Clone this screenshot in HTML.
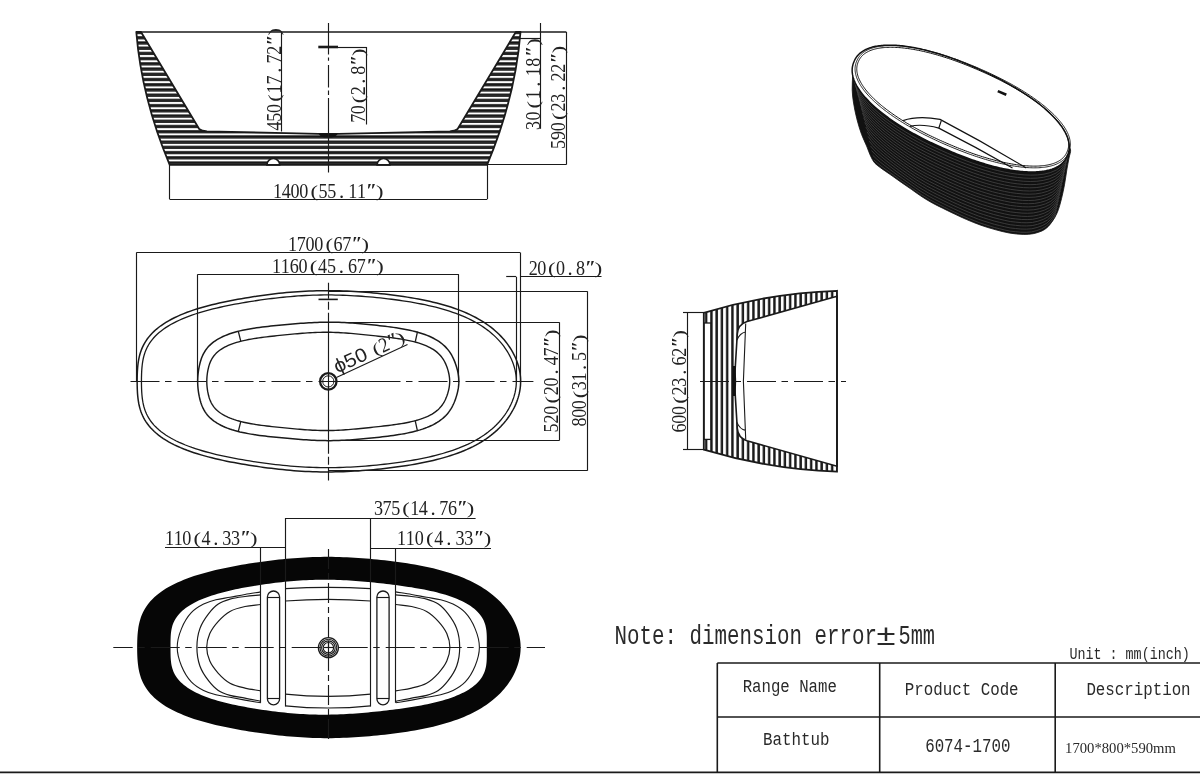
<!DOCTYPE html>
<html><head><meta charset="utf-8"><style>html,body{margin:0;padding:0;background:#fff;}svg{display:block;filter:grayscale(1);}</style></head>
<body><svg width="1200" height="774" viewBox="0 0 1200 774">
<rect width="1200" height="774" fill="#fff"/>
<defs><pattern id="hs" patternUnits="userSpaceOnUse" x="0" y="2.92" width="40" height="5.22"><rect width="40" height="5.22" fill="#2a2a2a"/><rect y="2.2" width="40" height="1.2" fill="#111"/><rect y="0" width="40" height="1.9" fill="#fff"/></pattern><pattern id="vs" patternUnits="userSpaceOnUse" x="1.25" y="0" width="5.25" height="40"><rect width="5.25" height="40" fill="#fff"/><rect x="0.2" width="2.45" height="40" fill="#1a1a1a"/></pattern></defs>
<path d="M136.3,32 Q141.6,98.25 169.7,164.8 L487.1,164.8 Q515.2,98.25 520.5,32 L515.8,32 L457.6,129 Q455.3,131 449.8,131.3 L338.5,133.9 L318.3,133.9 L207,131.3 Q201.5,131 199.2,129 L141,32 Z" fill="url(#hs)" stroke="#1a1a1a" stroke-width="1.8" stroke-linejoin="round"/>
<path d="M266.9,164.9 A6.4,6.4 0 0 1 279.7,164.9Z" fill="#fff" stroke="#1a1a1a" stroke-width="1.6"/>
<path d="M377.1,164.9 A6.4,6.4 0 0 1 389.9,164.9Z" fill="#fff" stroke="#1a1a1a" stroke-width="1.6"/>
<path d="M318.5,133.4 L338,133.4 Q336,137.6 328,137.6 Q320,137.6 318.5,133.4Z" fill="#111"/>
<g stroke="#1a1a1a" fill="none">
<line x1="136.3" y1="32" x2="566.4" y2="32" stroke-width="1.5"/>
<line x1="328.5" y1="23.1" x2="328.5" y2="172.4" stroke-width="1.15" stroke-dasharray="31.4 3.1 3.2 4.3 22.3 3.2 4.3 3.2 80"/>
<line x1="318.3" y1="47" x2="338" y2="47" stroke-width="2.6"/>
<line x1="338" y1="47.5" x2="366.7" y2="47.5" stroke-width="1.15"/>
<line x1="281.5" y1="32" x2="281.5" y2="131.5" stroke-width="1.15"/>
<line x1="366.5" y1="47" x2="366.5" y2="124.5" stroke-width="1.15"/>
<line x1="540.5" y1="23" x2="540.5" y2="128.8" stroke-width="1.15"/>
<line x1="520" y1="38.5" x2="540.6" y2="38.5" stroke-width="1.15"/>
<line x1="566.5" y1="32" x2="566.5" y2="164.6" stroke-width="1.15"/>
<line x1="487" y1="164.5" x2="566.4" y2="164.5" stroke-width="1.15"/>
<line x1="169.7" y1="199.5" x2="487" y2="199.5" stroke-width="1.15"/>
<line x1="169.5" y1="164.8" x2="169.5" y2="199.3" stroke-width="1.15"/>
<line x1="487.5" y1="164.8" x2="487.5" y2="199.3" stroke-width="1.15"/>
</g>
<g stroke="#1a1a1a" fill="none">
<path d="M137.15,381.3 L137.16,379.3 L137.18,377.3 L137.23,375.3 L137.3,373.29 L137.39,371.28 L137.51,369.27 L137.67,367.25 L137.87,365.22 L138.11,363.19 L138.41,361.15 L138.77,359.11 L139.2,357.06 L139.7,355.01 L140.29,352.96 L140.97,350.92 L141.76,348.87 L142.65,346.83 L143.65,344.81 L144.77,342.79 L146.02,340.79 L147.4,338.81 L148.91,336.85 L150.55,334.92 L152.34,333.01 L154.26,331.15 L156.32,329.31 L158.52,327.52 L160.85,325.77 L163.31,324.07 L165.9,322.42 L168.62,320.81 L171.45,319.26 L174.39,317.76 L177.43,316.32 L180.57,314.93 L183.8,313.59 L187.1,312.31 L190.48,311.09 L193.93,309.91 L197.43,308.79 L200.98,307.72 L204.57,306.7 L208.2,305.73 L211.86,304.79 L215.54,303.9 L219.23,303.05 L222.95,302.24 L226.67,301.46 L230.39,300.71 L234.12,300 L237.85,299.31 L241.58,298.65 L245.32,298.02 L249.05,297.41 L252.77,296.82 L256.5,296.26 L260.23,295.72 L263.96,295.2 L267.69,294.71 L271.42,294.24 L275.16,293.79 L278.9,293.37 L282.64,292.98 L286.4,292.61 L290.15,292.27 L293.92,291.96 L297.68,291.68 L301.46,291.44 L305.24,291.22 L309.03,291.04 L312.82,290.89 L316.61,290.78 L320.41,290.7 L324.2,290.66 L328,290.65 L331.8,290.67 L335.59,290.73 L339.39,290.82 L343.18,290.94 L346.96,291.09 L350.75,291.27 L354.53,291.48 L358.3,291.72 L362.08,291.99 L365.85,292.28 L369.61,292.59 L373.38,292.93 L377.14,293.29 L380.91,293.68 L384.67,294.1 L388.43,294.53 L392.19,295 L395.95,295.49 L399.71,296 L403.47,296.55 L407.22,297.12 L410.97,297.73 L414.7,298.38 L418.43,299.05 L422.14,299.77 L425.84,300.53 L429.51,301.32 L433.15,302.16 L436.77,303.05 L440.35,303.99 L443.88,304.97 L447.37,306 L450.8,307.08 L454.18,308.21 L457.49,309.39 L460.74,310.62 L463.91,311.91 L467,313.24 L470.02,314.62 L472.94,316.05 L475.78,317.52 L478.53,319.04 L481.18,320.59 L483.74,322.19 L486.21,323.83 L488.57,325.5 L490.85,327.2 L493.02,328.94 L495.11,330.7 L497.1,332.49 L498.99,334.3 L500.8,336.13 L502.52,337.98 L504.15,339.85 L505.7,341.74 L507.17,343.64 L508.55,345.56 L509.86,347.48 L511.09,349.42 L512.24,351.37 L513.32,353.33 L514.32,355.29 L515.25,357.26 L516.1,359.24 L516.88,361.23 L517.59,363.22 L518.23,365.21 L518.79,367.21 L519.28,369.22 L519.7,371.23 L520.04,373.24 L520.3,375.25 L520.49,377.27 L520.6,379.28 L520.64,381.3 L520.6,383.32 L520.49,385.33 L520.3,387.35 L520.04,389.36 L519.7,391.37 L519.28,393.38 L518.79,395.39 L518.23,397.39 L517.59,399.38 L516.88,401.37 L516.1,403.36 L515.25,405.34 L514.32,407.31 L513.32,409.27 L512.24,411.23 L511.09,413.18 L509.86,415.12 L508.55,417.04 L507.17,418.96 L505.7,420.86 L504.15,422.75 L502.52,424.62 L500.8,426.47 L498.99,428.3 L497.1,430.11 L495.11,431.9 L493.02,433.66 L490.85,435.4 L488.57,437.1 L486.21,438.77 L483.74,440.41 L481.18,442.01 L478.53,443.56 L475.78,445.08 L472.94,446.55 L470.02,447.98 L467,449.36 L463.91,450.69 L460.74,451.98 L457.49,453.21 L454.18,454.39 L450.8,455.52 L447.37,456.6 L443.88,457.63 L440.35,458.61 L436.77,459.55 L433.15,460.44 L429.51,461.28 L425.84,462.07 L422.14,462.83 L418.43,463.55 L414.7,464.22 L410.97,464.87 L407.22,465.48 L403.47,466.05 L399.71,466.6 L395.95,467.11 L392.19,467.6 L388.43,468.07 L384.67,468.5 L380.91,468.92 L377.14,469.31 L373.38,469.67 L369.61,470.01 L365.85,470.32 L362.08,470.61 L358.3,470.88 L354.53,471.12 L350.75,471.33 L346.96,471.51 L343.18,471.66 L339.39,471.78 L335.59,471.87 L331.8,471.93 L328,471.95 L324.2,471.94 L320.41,471.9 L316.61,471.82 L312.82,471.71 L309.03,471.56 L305.24,471.38 L301.46,471.16 L297.68,470.92 L293.92,470.64 L290.15,470.33 L286.4,469.99 L282.64,469.62 L278.9,469.23 L275.16,468.81 L271.42,468.36 L267.69,467.89 L263.96,467.4 L260.23,466.88 L256.5,466.34 L252.77,465.78 L249.05,465.19 L245.32,464.58 L241.58,463.95 L237.85,463.29 L234.12,462.6 L230.39,461.89 L226.67,461.14 L222.95,460.36 L219.23,459.55 L215.54,458.7 L211.86,457.81 L208.2,456.87 L204.57,455.9 L200.98,454.88 L197.43,453.81 L193.93,452.69 L190.48,451.51 L187.1,450.29 L183.8,449.01 L180.57,447.67 L177.43,446.28 L174.39,444.84 L171.45,443.34 L168.62,441.79 L165.9,440.18 L163.31,438.53 L160.85,436.83 L158.52,435.08 L156.32,433.29 L154.26,431.45 L152.34,429.59 L150.55,427.68 L148.91,425.75 L147.4,423.79 L146.02,421.81 L144.77,419.81 L143.65,417.79 L142.65,415.77 L141.76,413.73 L140.97,411.68 L140.29,409.64 L139.7,407.59 L139.2,405.54 L138.77,403.49 L138.41,401.45 L138.11,399.41 L137.87,397.38 L137.67,395.35 L137.51,393.33 L137.39,391.32 L137.3,389.31 L137.23,387.3 L137.18,385.3 L137.16,383.3Z" stroke-width="1.5"/>
<path d="M141.45,381.3 L141.46,379.34 L141.48,377.38 L141.53,375.42 L141.59,373.46 L141.68,371.51 L141.8,369.56 L141.95,367.62 L142.14,365.69 L142.37,363.76 L142.65,361.83 L142.99,359.92 L143.39,358.02 L143.86,356.12 L144.4,354.24 L145.02,352.37 L145.74,350.5 L146.54,348.65 L147.46,346.81 L148.48,344.97 L149.61,343.16 L150.86,341.35 L152.25,339.56 L153.76,337.78 L155.4,336.03 L157.19,334.3 L159.11,332.59 L161.17,330.91 L163.36,329.26 L165.69,327.65 L168.15,326.08 L170.74,324.55 L173.46,323.06 L176.28,321.62 L179.22,320.22 L182.26,318.88 L185.39,317.58 L188.61,316.34 L191.91,315.14 L195.28,314 L198.71,312.9 L202.19,311.85 L205.72,310.85 L209.29,309.89 L212.89,308.97 L216.53,308.09 L220.18,307.25 L223.85,306.44 L227.53,305.67 L231.22,304.93 L234.92,304.22 L238.62,303.54 L242.32,302.89 L246.02,302.26 L249.73,301.65 L253.43,301.07 L257.13,300.51 L260.83,299.97 L264.54,299.46 L268.24,298.97 L271.95,298.5 L275.65,298.06 L279.36,297.64 L283.08,297.25 L286.8,296.89 L290.52,296.55 L294.25,296.25 L297.98,295.97 L301.72,295.73 L305.47,295.52 L309.21,295.34 L312.96,295.19 L316.72,295.08 L320.48,295 L324.23,294.96 L327.99,294.95 L331.75,294.97 L335.51,295.03 L339.27,295.12 L343.02,295.24 L346.77,295.39 L350.52,295.57 L354.27,295.78 L358.02,296.01 L361.76,296.27 L365.5,296.56 L369.24,296.87 L372.98,297.21 L376.72,297.57 L380.45,297.96 L384.19,298.37 L387.92,298.8 L391.65,299.26 L395.38,299.75 L399.11,300.26 L402.83,300.8 L406.55,301.37 L410.26,301.97 L413.95,302.61 L417.64,303.28 L421.3,303.99 L424.95,304.73 L428.57,305.52 L432.16,306.35 L435.71,307.22 L439.23,308.14 L442.7,309.1 L446.11,310.11 L449.47,311.17 L452.77,312.27 L456.01,313.43 L459.17,314.63 L462.25,315.88 L465.26,317.17 L468.18,318.51 L471.01,319.89 L473.75,321.31 L476.4,322.77 L478.96,324.27 L481.41,325.81 L483.78,327.38 L486.05,328.98 L488.22,330.61 L490.3,332.26 L492.28,333.94 L494.17,335.64 L495.98,337.36 L497.69,339.1 L499.32,340.86 L500.87,342.63 L502.34,344.42 L503.72,346.22 L505.03,348.02 L506.26,349.84 L507.42,351.67 L508.5,353.5 L509.52,355.34 L510.46,357.18 L511.33,359.03 L512.13,360.88 L512.86,362.74 L513.52,364.59 L514.11,366.45 L514.63,368.3 L515.09,370.16 L515.47,372.02 L515.78,373.88 L516.03,375.73 L516.2,377.59 L516.31,379.44 L516.34,381.3 L516.31,383.16 L516.2,385.01 L516.03,386.87 L515.78,388.72 L515.47,390.58 L515.09,392.44 L514.63,394.3 L514.11,396.15 L513.52,398.01 L512.86,399.86 L512.13,401.72 L511.33,403.57 L510.46,405.42 L509.52,407.26 L508.5,409.1 L507.42,410.93 L506.26,412.76 L505.03,414.58 L503.72,416.38 L502.34,418.18 L500.87,419.97 L499.32,421.74 L497.69,423.5 L495.98,425.24 L494.17,426.96 L492.28,428.66 L490.3,430.34 L488.22,431.99 L486.05,433.62 L483.78,435.22 L481.41,436.79 L478.96,438.33 L476.4,439.83 L473.75,441.29 L471.01,442.71 L468.18,444.09 L465.26,445.43 L462.25,446.72 L459.17,447.97 L456.01,449.17 L452.77,450.33 L449.47,451.43 L446.11,452.49 L442.7,453.5 L439.23,454.46 L435.71,455.38 L432.16,456.25 L428.57,457.08 L424.95,457.87 L421.3,458.61 L417.64,459.32 L413.95,459.99 L410.26,460.63 L406.55,461.23 L402.83,461.8 L399.11,462.34 L395.38,462.85 L391.65,463.34 L387.92,463.8 L384.19,464.23 L380.45,464.64 L376.72,465.03 L372.98,465.39 L369.24,465.73 L365.5,466.04 L361.76,466.33 L358.02,466.59 L354.27,466.82 L350.52,467.03 L346.77,467.21 L343.02,467.36 L339.27,467.48 L335.51,467.57 L331.75,467.63 L327.99,467.65 L324.23,467.64 L320.48,467.6 L316.72,467.52 L312.96,467.41 L309.21,467.26 L305.47,467.08 L301.72,466.87 L297.98,466.63 L294.25,466.35 L290.52,466.05 L286.8,465.71 L283.08,465.35 L279.36,464.96 L275.65,464.54 L271.95,464.1 L268.24,463.63 L264.54,463.14 L260.83,462.63 L257.13,462.09 L253.43,461.53 L249.73,460.95 L246.02,460.34 L242.32,459.71 L238.62,459.06 L234.92,458.38 L231.22,457.67 L227.53,456.93 L223.85,456.16 L220.18,455.35 L216.53,454.51 L212.89,453.63 L209.29,452.71 L205.72,451.75 L202.19,450.75 L198.71,449.7 L195.28,448.6 L191.91,447.46 L188.61,446.26 L185.39,445.02 L182.26,443.72 L179.22,442.38 L176.28,440.98 L173.46,439.54 L170.74,438.05 L168.15,436.52 L165.69,434.95 L163.36,433.34 L161.17,431.69 L159.11,430.01 L157.19,428.3 L155.4,426.57 L153.76,424.82 L152.25,423.04 L150.86,421.25 L149.61,419.44 L148.48,417.63 L147.46,415.79 L146.54,413.95 L145.74,412.1 L145.02,410.23 L144.4,408.36 L143.86,406.48 L143.39,404.58 L142.99,402.68 L142.65,400.77 L142.37,398.84 L142.14,396.91 L141.95,394.98 L141.8,393.04 L141.68,391.09 L141.59,389.14 L141.53,387.18 L141.48,385.22 L141.46,383.26Z" stroke-width="1.3"/>
<path d="M197.66,381.4 L197.68,380.16 L197.71,378.92 L197.77,377.68 L197.85,376.43 L197.95,375.19 L198.07,373.94 L198.21,372.69 L198.38,371.43 L198.56,370.18 L198.77,368.91 L199,367.65 L199.25,366.37 L199.53,365.1 L199.83,363.81 L200.16,362.52 L200.53,361.22 L200.93,359.92 L201.38,358.61 L201.87,357.3 L202.42,355.98 L203.02,354.67 L203.69,353.35 L204.44,352.04 L205.26,350.73 L206.16,349.43 L207.16,348.13 L208.25,346.86 L209.44,345.6 L210.74,344.36 L212.15,343.14 L213.66,341.95 L215.29,340.8 L217.04,339.67 L218.89,338.59 L220.86,337.55 L222.93,336.55 L225.1,335.6 L227.37,334.69 L229.73,333.83 L232.17,333.03 L234.69,332.27 L237.28,331.56 L239.93,330.89 L242.63,330.28 L245.37,329.7 L248.14,329.17 L250.94,328.68 L253.76,328.23 L256.59,327.8 L259.43,327.41 L262.26,327.05 L265.09,326.7 L267.91,326.38 L270.73,326.07 L273.52,325.78 L276.31,325.5 L279.08,325.23 L281.83,324.97 L284.57,324.72 L287.3,324.47 L290.02,324.23 L292.74,323.99 L295.44,323.77 L298.15,323.55 L300.85,323.34 L303.55,323.14 L306.25,322.95 L308.96,322.78 L311.67,322.63 L314.38,322.5 L317.1,322.38 L319.82,322.29 L322.54,322.22 L325.27,322.18 L328,322.16 L330.73,322.17 L333.46,322.2 L336.19,322.25 L338.91,322.34 L341.63,322.44 L344.35,322.57 L347.06,322.72 L349.77,322.89 L352.48,323.07 L355.18,323.27 L357.88,323.49 L360.58,323.72 L363.28,323.96 L365.98,324.22 L368.69,324.48 L371.4,324.75 L374.12,325.03 L376.84,325.33 L379.58,325.63 L382.32,325.95 L385.07,326.28 L387.82,326.62 L390.59,326.98 L393.35,327.37 L396.11,327.77 L398.87,328.21 L401.62,328.67 L404.36,329.16 L407.07,329.69 L409.75,330.25 L412.4,330.86 L415,331.5 L417.56,332.19 L420.06,332.92 L422.49,333.7 L424.85,334.52 L427.12,335.39 L429.32,336.3 L431.42,337.25 L433.43,338.25 L435.34,339.28 L437.16,340.35 L438.87,341.46 L440.47,342.59 L441.98,343.76 L443.39,344.95 L444.7,346.16 L445.92,347.38 L447.05,348.63 L448.09,349.88 L449.06,351.15 L449.95,352.42 L450.77,353.7 L451.54,354.98 L452.24,356.26 L452.9,357.54 L453.5,358.81 L454.07,360.09 L454.6,361.36 L455.09,362.63 L455.55,363.9 L455.98,365.16 L456.38,366.42 L456.75,367.67 L457.1,368.93 L457.42,370.18 L457.7,371.43 L457.96,372.68 L458.19,373.92 L458.38,375.17 L458.54,376.42 L458.67,377.66 L458.76,378.91 L458.82,380.15 L458.84,381.4 L458.82,382.65 L458.76,383.89 L458.67,385.14 L458.54,386.38 L458.38,387.63 L458.19,388.88 L457.96,390.12 L457.7,391.37 L457.42,392.62 L457.1,393.87 L456.75,395.13 L456.38,396.38 L455.98,397.64 L455.55,398.9 L455.09,400.17 L454.6,401.44 L454.07,402.71 L453.5,403.99 L452.9,405.26 L452.24,406.54 L451.54,407.82 L450.77,409.1 L449.95,410.38 L449.06,411.65 L448.09,412.92 L447.05,414.17 L445.92,415.42 L444.7,416.64 L443.39,417.85 L441.98,419.04 L440.47,420.21 L438.87,421.34 L437.16,422.45 L435.34,423.52 L433.43,424.55 L431.42,425.55 L429.32,426.5 L427.12,427.41 L424.85,428.28 L422.49,429.1 L420.06,429.88 L417.56,430.61 L415,431.3 L412.4,431.94 L409.75,432.55 L407.07,433.11 L404.36,433.64 L401.62,434.13 L398.87,434.59 L396.11,435.03 L393.35,435.43 L390.59,435.82 L387.82,436.18 L385.07,436.52 L382.32,436.85 L379.58,437.17 L376.84,437.47 L374.12,437.77 L371.4,438.05 L368.69,438.32 L365.98,438.58 L363.28,438.84 L360.58,439.08 L357.88,439.31 L355.18,439.53 L352.48,439.73 L349.77,439.91 L347.06,440.08 L344.35,440.23 L341.63,440.36 L338.91,440.46 L336.19,440.55 L333.46,440.6 L330.73,440.63 L328,440.64 L325.27,440.62 L322.54,440.58 L319.82,440.51 L317.1,440.42 L314.38,440.3 L311.67,440.17 L308.96,440.02 L306.25,439.85 L303.55,439.66 L300.85,439.46 L298.15,439.25 L295.44,439.03 L292.74,438.81 L290.02,438.57 L287.3,438.33 L284.57,438.08 L281.83,437.83 L279.08,437.57 L276.31,437.3 L273.52,437.02 L270.73,436.73 L267.91,436.42 L265.09,436.1 L262.26,435.75 L259.43,435.39 L256.59,435 L253.76,434.57 L250.94,434.12 L248.14,433.63 L245.37,433.1 L242.63,432.52 L239.93,431.91 L237.28,431.24 L234.69,430.53 L232.17,429.77 L229.73,428.97 L227.37,428.11 L225.1,427.2 L222.93,426.25 L220.86,425.25 L218.89,424.21 L217.04,423.13 L215.29,422 L213.66,420.85 L212.15,419.66 L210.74,418.44 L209.44,417.2 L208.25,415.94 L207.16,414.67 L206.16,413.37 L205.26,412.07 L204.44,410.76 L203.69,409.45 L203.02,408.13 L202.42,406.82 L201.87,405.5 L201.38,404.19 L200.93,402.88 L200.53,401.58 L200.16,400.28 L199.83,398.99 L199.53,397.7 L199.25,396.43 L199,395.15 L198.77,393.89 L198.56,392.62 L198.38,391.37 L198.21,390.11 L198.07,388.86 L197.95,387.61 L197.85,386.37 L197.77,385.12 L197.71,383.88 L197.68,382.64Z" stroke-width="1.5"/>
<path d="M206.79,381.4 L206.8,380.38 L206.83,379.37 L206.88,378.35 L206.95,377.33 L207.03,376.31 L207.14,375.29 L207.26,374.27 L207.4,373.24 L207.56,372.21 L207.73,371.17 L207.93,370.14 L208.15,369.09 L208.39,368.04 L208.65,366.99 L208.95,365.93 L209.27,364.86 L209.63,363.79 L210.03,362.72 L210.48,361.64 L210.98,360.56 L211.53,359.48 L212.15,358.4 L212.83,357.32 L213.6,356.24 L214.44,355.17 L215.37,354.12 L216.39,353.07 L217.51,352.04 L218.73,351.02 L220.05,350.03 L221.48,349.06 L223.02,348.12 L224.66,347.2 L226.4,346.32 L228.25,345.47 L230.19,344.66 L232.23,343.89 L234.36,343.15 L236.57,342.45 L238.85,341.8 L241.2,341.18 L243.61,340.6 L246.08,340.06 L248.58,339.55 L251.12,339.08 L253.69,338.64 L256.28,338.22 L258.89,337.84 L261.5,337.48 L264.11,337.14 L266.72,336.82 L269.33,336.51 L271.93,336.22 L274.51,335.93 L277.09,335.66 L279.65,335.39 L282.21,335.14 L284.75,334.88 L287.28,334.63 L289.81,334.39 L292.34,334.15 L294.86,333.92 L297.38,333.7 L299.9,333.48 L302.43,333.28 L304.96,333.09 L307.5,332.91 L310.04,332.75 L312.59,332.62 L315.15,332.5 L317.71,332.4 L320.28,332.33 L322.85,332.29 L325.43,332.27 L328,332.27 L330.57,332.31 L333.14,332.37 L335.7,332.45 L338.25,332.56 L340.8,332.7 L343.33,332.85 L345.86,333.02 L348.38,333.21 L350.88,333.42 L353.38,333.64 L355.87,333.87 L358.36,334.1 L360.84,334.35 L363.33,334.6 L365.81,334.85 L368.3,335.11 L370.79,335.37 L373.3,335.64 L375.81,335.9 L378.34,336.18 L380.87,336.46 L383.42,336.74 L385.98,337.04 L388.55,337.34 L391.12,337.67 L393.7,338.01 L396.27,338.37 L398.84,338.75 L401.4,339.16 L403.93,339.6 L406.43,340.07 L408.91,340.57 L411.33,341.11 L413.71,341.68 L416.03,342.29 L418.28,342.95 L420.46,343.63 L422.55,344.36 L424.57,345.13 L426.49,345.93 L428.31,346.77 L430.04,347.63 L431.67,348.53 L433.19,349.46 L434.62,350.41 L435.95,351.39 L437.18,352.38 L438.32,353.4 L439.37,354.42 L440.33,355.46 L441.22,356.5 L442.03,357.56 L442.77,358.61 L443.45,359.67 L444.08,360.73 L444.65,361.79 L445.18,362.84 L445.67,363.9 L446.12,364.95 L446.54,365.99 L446.93,367.04 L447.29,368.08 L447.63,369.11 L447.94,370.15 L448.23,371.18 L448.49,372.21 L448.73,373.23 L448.95,374.26 L449.14,375.28 L449.3,376.3 L449.44,377.32 L449.54,378.34 L449.62,379.36 L449.67,380.38 L449.68,381.4 L449.67,382.42 L449.62,383.44 L449.54,384.46 L449.44,385.48 L449.3,386.5 L449.14,387.52 L448.95,388.54 L448.73,389.57 L448.49,390.59 L448.23,391.62 L447.94,392.65 L447.63,393.69 L447.29,394.72 L446.93,395.76 L446.54,396.81 L446.12,397.85 L445.67,398.9 L445.18,399.96 L444.65,401.01 L444.08,402.07 L443.45,403.13 L442.77,404.19 L442.03,405.24 L441.22,406.3 L440.33,407.34 L439.37,408.38 L438.32,409.4 L437.18,410.42 L435.95,411.41 L434.62,412.39 L433.19,413.34 L431.67,414.27 L430.04,415.17 L428.31,416.03 L426.49,416.87 L424.57,417.67 L422.55,418.44 L420.46,419.17 L418.28,419.85 L416.03,420.51 L413.71,421.12 L411.33,421.69 L408.91,422.23 L406.43,422.73 L403.93,423.2 L401.4,423.64 L398.84,424.05 L396.27,424.43 L393.7,424.79 L391.12,425.13 L388.55,425.46 L385.98,425.76 L383.42,426.06 L380.87,426.34 L378.34,426.62 L375.81,426.9 L373.3,427.16 L370.79,427.43 L368.3,427.69 L365.81,427.95 L363.33,428.2 L360.84,428.45 L358.36,428.7 L355.87,428.93 L353.38,429.16 L350.88,429.38 L348.38,429.59 L345.86,429.78 L343.33,429.95 L340.8,430.1 L338.25,430.24 L335.7,430.35 L333.14,430.43 L330.57,430.49 L328,430.53 L325.43,430.53 L322.85,430.51 L320.28,430.47 L317.71,430.4 L315.15,430.3 L312.59,430.18 L310.04,430.05 L307.5,429.89 L304.96,429.71 L302.43,429.52 L299.9,429.32 L297.38,429.1 L294.86,428.88 L292.34,428.65 L289.81,428.41 L287.28,428.17 L284.75,427.92 L282.21,427.66 L279.65,427.41 L277.09,427.14 L274.51,426.87 L271.93,426.58 L269.33,426.29 L266.72,425.98 L264.11,425.66 L261.5,425.32 L258.89,424.96 L256.28,424.58 L253.69,424.16 L251.12,423.72 L248.58,423.25 L246.08,422.74 L243.61,422.2 L241.2,421.62 L238.85,421 L236.57,420.35 L234.36,419.65 L232.23,418.91 L230.19,418.14 L228.25,417.33 L226.4,416.48 L224.66,415.6 L223.02,414.68 L221.48,413.74 L220.05,412.77 L218.73,411.78 L217.51,410.76 L216.39,409.73 L215.37,408.68 L214.44,407.63 L213.6,406.56 L212.83,405.48 L212.15,404.4 L211.53,403.32 L210.98,402.24 L210.48,401.16 L210.03,400.08 L209.63,399.01 L209.27,397.94 L208.95,396.87 L208.65,395.81 L208.39,394.76 L208.15,393.71 L207.93,392.66 L207.73,391.63 L207.56,390.59 L207.4,389.56 L207.26,388.53 L207.14,387.51 L207.03,386.49 L206.95,385.47 L206.88,384.45 L206.83,383.43 L206.8,382.42Z" stroke-width="1.4"/>
<line x1="238.4" y1="331.7" x2="240.9" y2="341.6" stroke-width="1.3"/>
<line x1="417.5" y1="331.7" x2="415.3" y2="341.6" stroke-width="1.3"/>
<line x1="238.4" y1="431.1" x2="240.9" y2="421.2" stroke-width="1.3"/>
<line x1="417.5" y1="431.1" x2="415.3" y2="421.2" stroke-width="1.3"/>
<line x1="130.5" y1="381.5" x2="533.4" y2="381.5" stroke-width="1.15" stroke-dasharray="29 5.5 6.5 6 29 5.5 6.5 6 29 5.5 6.5 6 29 5.5 6.5 6 82 5.5 6.5 6 29 5.5 6.5 6 29 5.5 6.5 6 29 5.5 6.5 6"/>
<line x1="328.5" y1="282.8" x2="328.5" y2="480.4" stroke-width="1.15" stroke-dasharray="16 3 8 3 141 3 8 3 20"/>
<circle cx="328.3" cy="381.4" r="8.2" stroke-width="2.3"/>
<circle cx="328.3" cy="381.4" r="5.6" stroke-width="1.0"/>
<line x1="318.5" y1="299.4" x2="337.8" y2="299.4" stroke-width="1.6"/>
<line x1="336.4" y1="377.4" x2="407.5" y2="344.5" stroke-width="1.1"/>
<line x1="136.4" y1="252.5" x2="520.1" y2="252.5" stroke-width="1.15"/>
<line x1="136.5" y1="252.5" x2="136.5" y2="381" stroke-width="1.15"/>
<line x1="520.5" y1="252.5" x2="520.5" y2="381" stroke-width="1.15"/>
<line x1="197.4" y1="274.5" x2="458.9" y2="274.5" stroke-width="1.15"/>
<line x1="197.5" y1="274.5" x2="197.5" y2="381" stroke-width="1.15"/>
<line x1="458.5" y1="274.5" x2="458.5" y2="381" stroke-width="1.15"/>
<line x1="506.2" y1="276.5" x2="516" y2="276.5" stroke-width="1.15"/>
<line x1="516.5" y1="276.7" x2="516.5" y2="381" stroke-width="1.15"/>
<line x1="520.1" y1="276.5" x2="601.5" y2="276.5" stroke-width="1.15"/>
<line x1="328" y1="291.5" x2="587.2" y2="291.5" stroke-width="1.15"/>
<line x1="328" y1="470.5" x2="587.2" y2="470.5" stroke-width="1.15"/>
<line x1="587.5" y1="291.2" x2="587.5" y2="470.8" stroke-width="1.15"/>
<line x1="328" y1="322.5" x2="559.6" y2="322.5" stroke-width="1.15"/>
<line x1="328" y1="440.5" x2="559.6" y2="440.5" stroke-width="1.15"/>
<line x1="559.5" y1="322.4" x2="559.5" y2="440.3" stroke-width="1.15"/>
</g>
<path d="M703.8,312.8 Q770.5,292.8 837,290.8 L837,471.6 Q770.5,469.6 703.8,449.6Z" fill="url(#vs)" stroke="none"/>
<path d="M837,296.2 L747,321.6 Q738,324.5 737.3,334 L734.4,381.2 L737.3,428.4 Q738,437.9 747,440.8 L837,466.2Z" fill="#fff" stroke="#1a1a1a" stroke-width="1.6"/>
<path d="M703.8,312.8 Q770.5,292.8 837,290.8 L837,471.6 Q770.5,469.6 703.8,449.6Z" fill="none" stroke="#1a1a1a" stroke-width="1.8"/>
<g stroke="#1a1a1a" fill="none">
<rect x="704.2" y="323" width="6.6" height="116.4" fill="#fff" stroke-width="1.3"/>
<path d="M745.7,323.5 L743.4,381.2 L745.7,439 M736.9,340 Q740,333 745.5,332 M736.9,422.4 Q740,429.4 745.5,430.4" stroke-width="1.1"/>
<path d="M733,366 L735.6,366 L736.2,381.2 L735.6,396 L733,396 L732.4,381.2Z" fill="#111" stroke="none"/>
<line x1="700" y1="381.5" x2="846" y2="381.5" stroke-width="1.15" stroke-dasharray="29 5.5 6.5 6"/>
<line x1="687.5" y1="312.8" x2="687.5" y2="449.5" stroke-width="1.15"/>
<line x1="683" y1="312.5" x2="704" y2="312.5" stroke-width="1.15"/>
<line x1="683" y1="449.5" x2="704" y2="449.5" stroke-width="1.15"/>
</g>
<path d="M137.15,647.5 L137.16,645.5 L137.18,643.5 L137.23,641.5 L137.3,639.49 L137.39,637.48 L137.51,635.47 L137.67,633.45 L137.87,631.42 L138.11,629.39 L138.41,627.35 L138.77,625.31 L139.2,623.26 L139.7,621.21 L140.29,619.16 L140.97,617.12 L141.76,615.07 L142.65,613.03 L143.65,611.01 L144.77,608.99 L146.02,606.99 L147.4,605.01 L148.91,603.05 L150.55,601.12 L152.34,599.21 L154.26,597.35 L156.32,595.51 L158.52,593.72 L160.85,591.97 L163.31,590.27 L165.9,588.62 L168.62,587.01 L171.45,585.46 L174.39,583.96 L177.43,582.52 L180.57,581.13 L183.8,579.79 L187.1,578.51 L190.48,577.29 L193.93,576.11 L197.43,574.99 L200.98,573.92 L204.57,572.9 L208.2,571.93 L211.86,570.99 L215.54,570.1 L219.23,569.25 L222.95,568.44 L226.67,567.66 L230.39,566.91 L234.12,566.2 L237.85,565.51 L241.58,564.85 L245.32,564.22 L249.05,563.61 L252.77,563.02 L256.5,562.46 L260.23,561.92 L263.96,561.4 L267.69,560.91 L271.42,560.44 L275.16,559.99 L278.9,559.57 L282.64,559.18 L286.4,558.81 L290.15,558.47 L293.92,558.16 L297.68,557.88 L301.46,557.64 L305.24,557.42 L309.03,557.24 L312.82,557.09 L316.61,556.98 L320.41,556.9 L324.2,556.86 L328,556.85 L331.8,556.87 L335.59,556.93 L339.39,557.02 L343.18,557.14 L346.96,557.29 L350.75,557.47 L354.53,557.68 L358.3,557.92 L362.08,558.19 L365.85,558.48 L369.61,558.79 L373.38,559.13 L377.14,559.49 L380.91,559.88 L384.67,560.3 L388.43,560.73 L392.19,561.2 L395.95,561.69 L399.71,562.2 L403.47,562.75 L407.22,563.32 L410.97,563.93 L414.7,564.58 L418.43,565.25 L422.14,565.97 L425.84,566.73 L429.51,567.52 L433.15,568.36 L436.77,569.25 L440.35,570.19 L443.88,571.17 L447.37,572.2 L450.8,573.28 L454.18,574.41 L457.49,575.59 L460.74,576.82 L463.91,578.11 L467,579.44 L470.02,580.82 L472.94,582.25 L475.78,583.72 L478.53,585.24 L481.18,586.79 L483.74,588.39 L486.21,590.03 L488.57,591.7 L490.85,593.4 L493.02,595.14 L495.11,596.9 L497.1,598.69 L498.99,600.5 L500.8,602.33 L502.52,604.18 L504.15,606.05 L505.7,607.94 L507.17,609.84 L508.55,611.76 L509.86,613.68 L511.09,615.62 L512.24,617.57 L513.32,619.53 L514.32,621.49 L515.25,623.46 L516.1,625.44 L516.88,627.43 L517.59,629.42 L518.23,631.41 L518.79,633.41 L519.28,635.42 L519.7,637.43 L520.04,639.44 L520.3,641.45 L520.49,643.47 L520.6,645.48 L520.64,647.5 L520.6,649.52 L520.49,651.53 L520.3,653.55 L520.04,655.56 L519.7,657.57 L519.28,659.58 L518.79,661.59 L518.23,663.59 L517.59,665.58 L516.88,667.57 L516.1,669.56 L515.25,671.54 L514.32,673.51 L513.32,675.47 L512.24,677.43 L511.09,679.38 L509.86,681.32 L508.55,683.24 L507.17,685.16 L505.7,687.06 L504.15,688.95 L502.52,690.82 L500.8,692.67 L498.99,694.5 L497.1,696.31 L495.11,698.1 L493.02,699.86 L490.85,701.6 L488.57,703.3 L486.21,704.97 L483.74,706.61 L481.18,708.21 L478.53,709.76 L475.78,711.28 L472.94,712.75 L470.02,714.18 L467,715.56 L463.91,716.89 L460.74,718.18 L457.49,719.41 L454.18,720.59 L450.8,721.72 L447.37,722.8 L443.88,723.83 L440.35,724.81 L436.77,725.75 L433.15,726.64 L429.51,727.48 L425.84,728.27 L422.14,729.03 L418.43,729.75 L414.7,730.42 L410.97,731.07 L407.22,731.68 L403.47,732.25 L399.71,732.8 L395.95,733.31 L392.19,733.8 L388.43,734.27 L384.67,734.7 L380.91,735.12 L377.14,735.51 L373.38,735.87 L369.61,736.21 L365.85,736.52 L362.08,736.81 L358.3,737.08 L354.53,737.32 L350.75,737.53 L346.96,737.71 L343.18,737.86 L339.39,737.98 L335.59,738.07 L331.8,738.13 L328,738.15 L324.2,738.14 L320.41,738.1 L316.61,738.02 L312.82,737.91 L309.03,737.76 L305.24,737.58 L301.46,737.36 L297.68,737.12 L293.92,736.84 L290.15,736.53 L286.4,736.19 L282.64,735.82 L278.9,735.43 L275.16,735.01 L271.42,734.56 L267.69,734.09 L263.96,733.6 L260.23,733.08 L256.5,732.54 L252.77,731.98 L249.05,731.39 L245.32,730.78 L241.58,730.15 L237.85,729.49 L234.12,728.8 L230.39,728.09 L226.67,727.34 L222.95,726.56 L219.23,725.75 L215.54,724.9 L211.86,724.01 L208.2,723.07 L204.57,722.1 L200.98,721.08 L197.43,720.01 L193.93,718.89 L190.48,717.71 L187.1,716.49 L183.8,715.21 L180.57,713.87 L177.43,712.48 L174.39,711.04 L171.45,709.54 L168.62,707.99 L165.9,706.38 L163.31,704.73 L160.85,703.03 L158.52,701.28 L156.32,699.49 L154.26,697.65 L152.34,695.79 L150.55,693.88 L148.91,691.95 L147.4,689.99 L146.02,688.01 L144.77,686.01 L143.65,683.99 L142.65,681.97 L141.76,679.93 L140.97,677.88 L140.29,675.84 L139.7,673.79 L139.2,671.74 L138.77,669.69 L138.41,667.65 L138.11,665.61 L137.87,663.58 L137.67,661.55 L137.51,659.53 L137.39,657.52 L137.3,655.51 L137.23,653.5 L137.18,651.5 L137.16,649.5Z M170.52,647.2 L170.52,645.7 L170.53,644.2 L170.53,642.7 L170.55,641.19 L170.58,639.68 L170.62,638.16 L170.68,636.64 L170.78,635.11 L170.9,633.58 L171.08,632.04 L171.3,630.49 L171.58,628.95 L171.94,627.39 L172.36,625.84 L172.88,624.29 L173.48,622.74 L174.19,621.2 L174.99,619.66 L175.91,618.14 L176.95,616.63 L178.1,615.14 L179.38,613.66 L180.77,612.21 L182.29,610.79 L183.94,609.39 L185.7,608.03 L187.59,606.7 L189.59,605.4 L191.7,604.14 L193.92,602.92 L196.24,601.74 L198.65,600.6 L201.16,599.5 L203.74,598.45 L206.4,597.43 L209.12,596.46 L211.9,595.52 L214.74,594.63 L217.62,593.77 L220.54,592.95 L223.5,592.17 L226.48,591.42 L229.49,590.7 L232.51,590.02 L235.55,589.36 L238.6,588.73 L241.65,588.12 L244.71,587.54 L247.77,586.99 L250.84,586.45 L253.9,585.93 L256.97,585.44 L260.03,584.96 L263.09,584.5 L266.16,584.06 L269.22,583.64 L272.29,583.24 L275.36,582.86 L278.42,582.49 L281.5,582.14 L284.57,581.82 L287.65,581.51 L290.74,581.23 L293.83,580.97 L296.92,580.73 L300.02,580.52 L303.12,580.33 L306.22,580.16 L309.33,580.02 L312.44,579.91 L315.55,579.82 L318.67,579.76 L321.78,579.73 L324.89,579.72 L328,579.74 L331.11,579.78 L334.21,579.85 L337.31,579.94 L340.4,580.05 L343.49,580.19 L346.58,580.35 L349.66,580.53 L352.73,580.73 L355.8,580.95 L358.87,581.18 L361.94,581.43 L365,581.7 L368.06,581.98 L371.12,582.28 L374.19,582.59 L377.25,582.91 L380.33,583.24 L383.41,583.59 L386.49,583.95 L389.59,584.32 L392.69,584.71 L395.81,585.11 L398.94,585.52 L402.07,585.96 L405.22,586.41 L408.37,586.88 L411.53,587.37 L414.69,587.89 L417.86,588.43 L421.02,589 L424.18,589.6 L427.33,590.24 L430.46,590.91 L433.56,591.61 L436.64,592.35 L439.69,593.14 L442.69,593.97 L445.64,594.84 L448.53,595.75 L451.35,596.72 L454.1,597.72 L456.77,598.78 L459.34,599.88 L461.82,601.03 L464.2,602.22 L466.46,603.46 L468.6,604.74 L470.63,606.06 L472.53,607.41 L474.3,608.81 L475.94,610.23 L477.44,611.69 L478.82,613.17 L480.06,614.67 L481.18,616.2 L482.17,617.74 L483.04,619.3 L483.8,620.86 L484.45,622.44 L485,624.01 L485.45,625.59 L485.82,627.17 L486.12,628.75 L486.35,630.32 L486.52,631.88 L486.64,633.44 L486.72,635 L486.77,636.54 L486.79,638.08 L486.8,639.61 L486.8,641.14 L486.79,642.66 L486.78,644.18 L486.78,645.69 L486.77,647.2 L486.78,648.71 L486.78,650.22 L486.79,651.74 L486.8,653.26 L486.8,654.79 L486.79,656.32 L486.77,657.86 L486.72,659.4 L486.64,660.96 L486.52,662.52 L486.35,664.08 L486.12,665.65 L485.82,667.23 L485.45,668.81 L485,670.39 L484.45,671.96 L483.8,673.54 L483.04,675.1 L482.17,676.66 L481.18,678.2 L480.06,679.73 L478.82,681.23 L477.44,682.71 L475.94,684.17 L474.3,685.59 L472.53,686.99 L470.63,688.34 L468.6,689.66 L466.46,690.94 L464.2,692.18 L461.82,693.37 L459.34,694.52 L456.77,695.62 L454.1,696.68 L451.35,697.68 L448.53,698.65 L445.64,699.56 L442.69,700.43 L439.69,701.26 L436.64,702.05 L433.56,702.79 L430.46,703.49 L427.33,704.16 L424.18,704.8 L421.02,705.4 L417.86,705.97 L414.69,706.51 L411.53,707.03 L408.37,707.52 L405.22,707.99 L402.07,708.44 L398.94,708.88 L395.81,709.29 L392.69,709.69 L389.59,710.08 L386.49,710.45 L383.41,710.81 L380.33,711.16 L377.25,711.49 L374.19,711.81 L371.12,712.12 L368.06,712.42 L365,712.7 L361.94,712.97 L358.87,713.22 L355.8,713.45 L352.73,713.67 L349.66,713.87 L346.58,714.05 L343.49,714.21 L340.4,714.35 L337.31,714.46 L334.21,714.55 L331.11,714.62 L328,714.66 L324.89,714.68 L321.78,714.67 L318.67,714.64 L315.55,714.58 L312.44,714.49 L309.33,714.38 L306.22,714.24 L303.12,714.07 L300.02,713.88 L296.92,713.67 L293.83,713.43 L290.74,713.17 L287.65,712.89 L284.57,712.58 L281.5,712.26 L278.42,711.91 L275.36,711.54 L272.29,711.16 L269.22,710.76 L266.16,710.34 L263.09,709.9 L260.03,709.44 L256.97,708.96 L253.9,708.47 L250.84,707.95 L247.77,707.41 L244.71,706.86 L241.65,706.28 L238.6,705.67 L235.55,705.04 L232.51,704.38 L229.49,703.7 L226.48,702.98 L223.5,702.23 L220.54,701.45 L217.62,700.63 L214.74,699.77 L211.9,698.88 L209.12,697.94 L206.4,696.97 L203.74,695.95 L201.16,694.9 L198.65,693.8 L196.24,692.66 L193.92,691.48 L191.7,690.26 L189.59,689 L187.59,687.7 L185.7,686.37 L183.94,685.01 L182.29,683.61 L180.77,682.19 L179.38,680.74 L178.1,679.26 L176.95,677.77 L175.91,676.26 L174.99,674.74 L174.19,673.2 L173.48,671.66 L172.88,670.11 L172.36,668.56 L171.94,667.01 L171.58,665.45 L171.3,663.91 L171.08,662.36 L170.9,660.82 L170.78,659.29 L170.68,657.76 L170.62,656.24 L170.58,654.72 L170.55,653.21 L170.53,651.7 L170.53,650.2 L170.52,648.7Z" fill="#060606" fill-rule="evenodd" stroke="none"/>
<g stroke="#1a1a1a" fill="none">
<path d="M260.8,591.9 C255.53,592.77 250.19,593.59 245,594.5 C239.93,595.39 234.92,596.4 230,597.3 C225.23,598.17 220.39,598.62 215.9,599.8 C211.61,600.92 207.57,602.07 203.6,604.1 C199.34,606.28 194.85,608.94 191.3,612.7 C187.34,616.89 183.85,622.88 181.5,628.6 C179.12,634.4 177.2,641.07 177.2,647.3 C177.2,653.53 179.12,660.2 181.5,666 C183.85,671.72 187.34,677.71 191.3,681.9 C194.85,685.66 199.34,688.32 203.6,690.5 C207.57,692.53 211.61,693.68 215.9,694.8 C220.39,695.98 225.23,696.43 230,697.3 C234.92,698.2 239.93,699.19 245,700.1 C250.19,701.03 255.53,701.9 260.8,702.8" stroke-width="1.1"/>
<path d="M260.8,591.9 C255.53,592.77 250.19,593.59 245,594.5 C239.93,595.39 234.92,596.4 230,597.3 C225.23,598.17 220.39,598.62 215.9,599.8 C211.61,600.92 207.57,602.07 203.6,604.1 C199.34,606.28 194.85,608.94 191.3,612.7 C187.34,616.89 183.85,622.88 181.5,628.6 C179.12,634.4 177.2,641.07 177.2,647.3 C177.2,653.53 179.12,660.2 181.5,666 C183.85,671.72 187.34,677.71 191.3,681.9 C194.85,685.66 199.34,688.32 203.6,690.5 C207.57,692.53 211.61,693.68 215.9,694.8 C220.39,695.98 225.23,696.43 230,697.3 C234.92,698.2 239.93,699.19 245,700.1 C250.19,701.03 255.53,701.9 260.8,702.8" stroke-width="1.1" transform="matrix(-1 0 0 1 656.6 0)"/>
<path d="M260.8,594.9 C255.53,595.43 250.18,595.77 245,596.5 C239.92,597.21 234.62,597.83 230,599.2 C225.78,600.45 221.82,601.74 218.3,604.1 C214.62,606.57 211.44,610.09 208.5,613.9 C205.24,618.13 201.83,623.21 199.9,628.6 C197.86,634.29 196.9,641.07 196.9,647.3 C196.9,653.53 197.86,660.31 199.9,666 C201.83,671.39 205.24,676.47 208.5,680.7 C211.44,684.51 214.62,688.03 218.3,690.5 C221.82,692.86 225.78,694.15 230,695.4 C234.62,696.77 239.94,697.13 245,698.1 C250.2,699.1 255.53,700.23 260.8,701.3" stroke-width="1.2"/>
<path d="M260.8,594.9 C255.53,595.43 250.18,595.77 245,596.5 C239.92,597.21 234.62,597.83 230,599.2 C225.78,600.45 221.82,601.74 218.3,604.1 C214.62,606.57 211.44,610.09 208.5,613.9 C205.24,618.13 201.83,623.21 199.9,628.6 C197.86,634.29 196.9,641.07 196.9,647.3 C196.9,653.53 197.86,660.31 199.9,666 C201.83,671.39 205.24,676.47 208.5,680.7 C211.44,684.51 214.62,688.03 218.3,690.5 C221.82,692.86 225.78,694.15 230,695.4 C234.62,696.77 239.94,697.13 245,698.1 C250.2,699.1 255.53,700.23 260.8,701.3" stroke-width="1.2" transform="matrix(-1 0 0 1 656.6 0)"/>
<path d="M260.8,604.5 C255.53,605.17 250.14,605.35 245,606.5 C239.88,607.65 234.47,608.9 230,611.4 C225.59,613.86 221.68,617.58 218.3,621.3 C214.97,624.96 211.74,629.1 209.8,633.5 C207.91,637.79 206.7,642.7 206.7,647.3 C206.7,651.9 207.91,656.81 209.8,661.1 C211.74,665.5 214.97,669.64 218.3,673.3 C221.68,677.02 225.59,680.74 230,683.2 C234.47,685.7 239.89,686.84 245,688.1 C250.15,689.37 255.53,689.9 260.8,690.8" stroke-width="1.2"/>
<path d="M260.8,604.5 C255.53,605.17 250.14,605.35 245,606.5 C239.88,607.65 234.47,608.9 230,611.4 C225.59,613.86 221.68,617.58 218.3,621.3 C214.97,624.96 211.74,629.1 209.8,633.5 C207.91,637.79 206.7,642.7 206.7,647.3 C206.7,651.9 207.91,656.81 209.8,661.1 C211.74,665.5 214.97,669.64 218.3,673.3 C221.68,677.02 225.59,680.74 230,683.2 C234.47,685.7 239.89,686.84 245,688.1 C250.15,689.37 255.53,689.9 260.8,690.8" stroke-width="1.2" transform="matrix(-1 0 0 1 656.6 0)"/>
<rect x="267.4" y="591" width="12.2" height="113.8" rx="6.1" ry="6.1" stroke-width="1.3"/>
<line x1="267.4" y1="597.5" x2="279.6" y2="597.5" stroke-width="1.15"/>
<line x1="267.4" y1="698.5" x2="279.6" y2="698.5" stroke-width="1.15"/>
<rect x="376.9" y="591" width="12.2" height="113.8" rx="6.1" ry="6.1" stroke-width="1.3"/>
<line x1="376.9" y1="597.5" x2="389.1" y2="597.5" stroke-width="1.15"/>
<line x1="376.9" y1="698.5" x2="389.1" y2="698.5" stroke-width="1.15"/>
<path d="M285.4,588.6 Q328,586.2 370.6,588.6" stroke-width="1.2"/>
<path d="M285.4,601 Q328,597.6 370.6,601" stroke-width="1.2"/>
<path d="M285.4,694.2 Q328,698.6 370.6,694.2" stroke-width="1.2"/>
<path d="M285.4,705.8 Q328,710.2 370.6,705.8" stroke-width="1.2"/>
<line x1="260.5" y1="547.6" x2="260.5" y2="702.8" stroke-width="1.15"/>
<line x1="395.5" y1="548.5" x2="395.5" y2="702.8" stroke-width="1.15"/>
<line x1="285.5" y1="518" x2="285.5" y2="706.5" stroke-width="1.15"/>
<line x1="370.5" y1="518" x2="370.5" y2="706.5" stroke-width="1.15"/>
<circle cx="328.4" cy="647.7" r="10" stroke-width="1.3"/>
<circle cx="328.4" cy="647.7" r="8.4" stroke-width="1.1"/>
<circle cx="328.4" cy="647.7" r="6.8" stroke-width="1.1"/>
<circle cx="328.4" cy="647.7" r="5.2" stroke-width="1.1"/>
<line x1="324" y1="647.5" x2="333" y2="647.5" stroke-width="1.15"/>
<line x1="328.5" y1="643" x2="328.5" y2="652" stroke-width="1.15"/>
<line x1="113.3" y1="647.5" x2="545" y2="647.5" stroke-width="1.15" stroke-dasharray="29 5.5 6.5 6" stroke-dashoffset="9.6"/>
<line x1="328.5" y1="549" x2="328.5" y2="739" stroke-width="1.15" stroke-dasharray="20 4 6 4"/>
<line x1="285.4" y1="518.5" x2="475.6" y2="518.5" stroke-width="1.15"/>
<line x1="165" y1="547.5" x2="285.4" y2="547.5" stroke-width="1.15"/>
<line x1="370.6" y1="548.5" x2="491" y2="548.5" stroke-width="1.15"/>
</g>
<path d="M852.76,73.61 C852.57,79.08 852.03,84.97 852.2,90 C852.34,94.32 852.75,97.68 853.4,102 C854.18,107.15 855.41,113.33 856.8,118.8 C858.16,124.16 859.84,129.72 861.6,134.5 C863.14,138.68 865.05,142.29 866.6,146 C868.03,149.44 869.16,153.03 870.6,156 C871.83,158.53 872.83,160.82 874.5,162.8 C876.19,164.8 878.33,166.1 880.7,167.9 C883.66,170.15 887.57,172.69 891,175.1 C894.44,177.52 897.85,179.98 901.3,182.4 C904.75,184.82 908.24,187.2 911.7,189.6 C915.14,192 918.53,194.55 922,196.8 C925.4,199.01 928.83,201.08 932.3,203 C935.7,204.88 939.15,206.48 942.6,208.2 C946.05,209.92 949.28,211.53 953,213.3 C957.24,215.31 962.07,217.62 966.7,219.6 C971.34,221.59 976.06,223.53 980.8,225.2 C985.49,226.86 990.25,228.3 995,229.6 C999.71,230.89 1004.45,232.2 1009.2,233 C1013.88,233.79 1019.01,234.34 1023.3,234.4 C1026.89,234.45 1029.84,234.42 1033.2,233.7 C1036.92,232.9 1041.44,231.54 1044.6,229.5 C1047.46,227.66 1049.54,225.11 1051.6,222.4 C1053.81,219.5 1055.7,216.2 1057.3,212.5 C1059.12,208.28 1060.38,203.05 1061.6,198.3 C1062.8,193.62 1063.73,188.92 1064.6,184.2 C1065.47,179.49 1066.03,174.53 1066.8,170 C1067.51,165.83 1068.31,161.59 1069,158 C1069.56,155.06 1070.88,152.09 1070.6,150 C1070.4,148.55 1069.43,147.66 1068.84,146.49 Z" fill="#111" stroke="#111" stroke-width="0.8"/>
<clipPath id="bodyclip"><path d="M852.76,73.61 C852.57,79.08 852.03,84.97 852.2,90 C852.34,94.32 852.75,97.68 853.4,102 C854.18,107.15 855.41,113.33 856.8,118.8 C858.16,124.16 859.84,129.72 861.6,134.5 C863.14,138.68 865.05,142.29 866.6,146 C868.03,149.44 869.16,153.03 870.6,156 C871.83,158.53 872.83,160.82 874.5,162.8 C876.19,164.8 878.33,166.1 880.7,167.9 C883.66,170.15 887.57,172.69 891,175.1 C894.44,177.52 897.85,179.98 901.3,182.4 C904.75,184.82 908.24,187.2 911.7,189.6 C915.14,192 918.53,194.55 922,196.8 C925.4,199.01 928.83,201.08 932.3,203 C935.7,204.88 939.15,206.48 942.6,208.2 C946.05,209.92 949.28,211.53 953,213.3 C957.24,215.31 962.07,217.62 966.7,219.6 C971.34,221.59 976.06,223.53 980.8,225.2 C985.49,226.86 990.25,228.3 995,229.6 C999.71,230.89 1004.45,232.2 1009.2,233 C1013.88,233.79 1019.01,234.34 1023.3,234.4 C1026.89,234.45 1029.84,234.42 1033.2,233.7 C1036.92,232.9 1041.44,231.54 1044.6,229.5 C1047.46,227.66 1049.54,225.11 1051.6,222.4 C1053.81,219.5 1055.7,216.2 1057.3,212.5 C1059.12,208.28 1060.38,203.05 1061.6,198.3 C1062.8,193.62 1063.73,188.92 1064.6,184.2 C1065.47,179.49 1066.03,174.53 1066.8,170 C1067.51,165.83 1068.31,161.59 1069,158 C1069.56,155.06 1070.88,152.09 1070.6,150 C1070.4,148.55 1069.43,147.66 1068.84,146.49 Z"/></clipPath>
<path d="M853.3,75.32 L854.46,81.8 L856.99,87.92 L860.42,93.6 L864.45,98.9 L868.9,103.86 L873.66,108.52 L878.65,112.95 L883.83,117.15 L889.16,121.15 L894.62,124.98 L900.19,128.65 L905.86,132.16 L911.62,135.53 L917.45,138.76 L923.36,141.86 L929.32,144.85 L935.33,147.73 L941.39,150.51 L947.49,153.22 L953.62,155.84 L959.8,158.36 L966.02,160.76 L972.29,163.04 L978.61,165.18 L984.97,167.16 L991.39,168.99 L997.85,170.63 L1004.36,172.08 L1010.92,173.3 L1017.52,174.24 L1024.16,174.88 L1030.82,175.14 L1037.49,174.94 L1044.1,174.12 L1050.57,172.53 L1056.67,169.89 L1061.97,165.87 L1065.86,160.49 L1068.15,154.25 M854.44,80.02 L855.76,86.34 L858.38,92.3 L861.86,97.84 L865.91,103.01 L870.35,107.87 L875.09,112.46 L880.04,116.8 L885.18,120.94 L890.46,124.89 L895.86,128.68 L901.36,132.32 L906.98,135.78 L912.67,139.12 L918.44,142.31 L924.28,145.37 L930.18,148.33 L936.13,151.18 L942.12,153.94 L948.15,156.62 L954.21,159.22 L960.32,161.71 L966.47,164.09 L972.67,166.35 L978.92,168.46 L985.22,170.43 L991.56,172.24 L997.95,173.86 L1004.39,175.3 L1010.88,176.51 L1017.41,177.43 L1023.97,178.06 L1030.56,178.32 L1037.15,178.11 L1043.68,177.26 L1050.07,175.66 L1056.09,173.02 L1061.31,169.02 L1065.16,163.7 L1067.47,157.55 M855.58,84.72 L857.06,90.87 L859.77,96.68 L863.3,102.08 L867.37,107.13 L871.8,111.89 L876.51,116.39 L881.44,120.66 L886.53,124.73 L891.76,128.63 L897.1,132.38 L902.54,135.98 L908.09,139.41 L913.72,142.71 L919.43,145.86 L925.21,148.88 L931.05,151.81 L936.93,154.63 L942.85,157.36 L948.81,160.01 L954.8,162.6 L960.84,165.07 L966.93,167.42 L973.05,169.67 L979.23,171.75 L985.46,173.69 L991.73,175.5 L998.06,177.09 L1004.42,178.52 L1010.83,179.73 L1017.29,180.62 L1023.79,181.25 L1030.3,181.49 L1036.82,181.27 L1043.27,180.4 L1049.58,178.78 L1055.52,176.15 L1060.64,172.16 L1064.46,166.91 L1066.79,160.85 M856.72,89.43 L858.35,95.41 L861.16,101.06 L864.74,106.32 L868.82,111.25 L873.25,115.91 L877.94,120.32 L882.83,124.52 L887.88,128.53 L893.06,132.38 L898.34,136.08 L903.71,139.65 L909.21,143.03 L914.77,146.3 L920.42,149.41 L926.14,152.4 L931.91,155.28 L937.72,158.08 L943.58,160.79 L949.47,163.41 L955.39,165.97 L961.36,168.42 L967.38,170.75 L973.43,172.98 L979.54,175.04 L985.7,176.96 L991.9,178.75 L998.16,180.33 L1004.45,181.74 L1010.79,182.94 L1017.18,183.81 L1023.6,184.44 L1030.04,184.67 L1036.49,184.44 L1042.86,183.54 L1049.09,181.91 L1054.94,179.29 L1059.98,175.31 L1063.76,170.12 L1066.11,164.14 M857.86,94.13 L859.65,99.95 L862.55,105.44 L866.18,110.56 L870.28,115.37 L874.71,119.92 L879.37,124.25 L884.23,128.37 L889.23,132.32 L894.36,136.12 L899.58,139.78 L904.89,143.31 L910.32,146.66 L915.82,149.89 L921.41,152.96 L927.07,155.91 L932.77,158.76 L938.52,161.53 L944.31,164.21 L950.13,166.81 L955.98,169.35 L961.88,171.77 L967.83,174.08 L973.81,176.29 L979.86,178.33 L985.95,180.22 L992.07,182 L998.26,183.56 L1004.48,184.96 L1010.74,186.16 L1017.07,187.01 L1023.41,187.62 L1029.78,187.84 L1036.16,187.6 L1042.44,186.68 L1048.59,185.04 L1054.36,182.42 L1059.32,178.45 L1063.07,173.33 L1065.43,167.44 M859,98.83 L860.95,104.48 L863.94,109.82 L867.62,114.79 L871.74,119.49 L876.16,123.94 L880.8,128.18 L885.62,132.23 L890.58,136.11 L895.66,139.86 L900.82,143.48 L906.06,146.98 L911.44,150.28 L916.87,153.48 L922.4,156.51 L927.99,159.42 L933.63,162.24 L939.32,164.98 L945.04,167.63 L950.79,170.21 L956.57,172.72 L962.41,175.12 L968.28,177.41 L974.2,179.6 L980.17,181.61 L986.19,183.49 L992.25,185.25 L998.36,186.79 L1004.51,188.18 L1010.7,189.37 L1016.95,190.2 L1023.23,190.81 L1029.52,191.02 L1035.82,190.77 L1042.03,189.82 L1048.1,188.16 L1053.78,185.55 L1058.66,181.6 L1062.37,176.54 L1064.76,170.74 M860.14,103.54 L862.25,109.02 L865.33,114.2 L869.06,119.03 L873.19,123.6 L877.61,127.96 L882.23,132.11 L887.02,136.09 L891.94,139.91 L896.96,143.6 L902.06,147.18 L907.24,150.65 L912.55,153.91 L917.92,157.07 L923.39,160.06 L928.92,162.94 L934.5,165.72 L940.11,168.43 L945.76,171.06 L951.45,173.6 L957.17,176.1 L962.93,178.47 L968.74,180.73 L974.58,182.91 L980.48,184.9 L986.43,186.75 L992.42,188.5 L998.46,190.02 L1004.54,191.4 L1010.66,192.59 L1016.84,193.39 L1023.04,194 L1029.26,194.2 L1035.49,193.94 L1041.61,192.96 L1047.61,191.29 L1053.21,188.68 L1058,184.74 L1061.67,179.75 L1064.08,174.03 M861.28,108.24 L863.55,113.55 L866.72,118.58 L870.5,123.27 L874.65,127.72 L879.06,131.97 L883.66,136.04 L888.41,139.94 L893.29,143.7 L898.26,147.34 L903.3,150.88 L908.42,154.31 L913.67,157.53 L918.97,160.66 L924.38,163.61 L929.85,166.45 L935.36,169.2 L940.91,171.88 L946.49,174.48 L952.11,177 L957.76,179.48 L963.45,181.83 L969.19,184.06 L974.96,186.22 L980.8,188.19 L986.68,190.02 L992.59,191.75 L998.56,193.25 L1004.57,194.62 L1010.61,195.8 L1016.72,196.58 L1022.86,197.18 L1029,197.37 L1035.16,197.1 L1041.2,196.1 L1047.11,194.42 L1052.63,191.82 L1057.34,187.88 L1060.97,182.95 L1063.4,177.33 M862.42,112.94 L864.84,118.09 L868.11,122.96 L871.94,127.51 L876.11,131.84 L880.51,135.99 L885.09,139.97 L889.81,143.8 L894.64,147.49 L899.56,151.08 L904.54,154.58 L909.59,157.98 L914.78,161.15 L920.02,164.25 L925.37,167.16 L930.78,169.96 L936.22,172.68 L941.7,175.33 L947.22,177.9 L952.77,180.4 L958.35,182.85 L963.97,185.18 L969.64,187.39 L975.34,189.53 L981.11,191.48 L986.92,193.28 L992.76,195 L998.67,196.48 L1004.6,197.84 L1010.57,199.01 L1016.61,199.78 L1022.67,200.37 L1028.74,200.55 L1034.82,200.27 L1040.79,199.24 L1046.62,197.54 L1052.05,194.95 L1056.68,191.03 L1060.27,186.16 L1062.72,180.63 M863.56,117.65 L866.14,122.63 L869.5,127.34 L873.38,131.75 L877.57,135.96 L881.96,140.01 L886.51,143.9 L891.2,147.66 L895.99,151.29 L900.86,154.82 L905.78,158.28 L910.77,161.64 L915.9,164.78 L921.07,167.84 L926.36,170.71 L931.7,173.47 L937.09,176.16 L942.5,178.78 L947.95,181.33 L953.43,183.8 L958.94,186.23 L964.49,188.53 L970.1,190.72 L975.72,192.85 L981.42,194.76 L987.17,196.55 L992.93,198.26 L998.77,199.71 L1004.63,201.06 L1010.53,202.23 L1016.5,202.97 L1022.48,203.55 L1028.48,203.72 L1034.49,203.44 L1040.37,202.38 L1046.13,200.67 L1051.47,198.08 L1056.01,194.17 L1059.58,189.37 L1062.04,183.92 M864.7,122.35 L867.44,127.16 L870.89,131.72 L874.82,135.99 L879.02,140.08 L883.41,144.02 L887.94,147.83 L892.6,151.51 L897.34,155.08 L902.15,158.57 L907.02,161.97 L911.94,165.31 L917.01,168.4 L922.12,171.44 L927.35,174.26 L932.63,176.99 L937.95,179.64 L943.3,182.23 L948.68,184.75 L954.09,187.2 L959.53,189.6 L965.01,191.88 L970.55,194.05 L976.1,196.16 L981.73,198.05 L987.41,199.82 L993.11,201.51 L998.87,202.95 L1004.66,204.28 L1010.48,205.44 L1016.38,206.16 L1022.3,206.74 L1028.23,206.9 L1034.16,206.6 L1039.96,205.52 L1045.63,203.8 L1050.9,201.21 L1055.35,197.32 L1058.88,192.58 L1061.36,187.22 M865.84,127.05 L868.74,131.7 L872.28,136.1 L876.26,140.23 L880.48,144.19 L884.86,148.04 L889.37,151.77 L893.99,155.37 L898.69,158.87 L903.45,162.31 L908.26,165.67 L913.12,168.97 L918.13,172.03 L923.18,175.03 L928.34,177.81 L933.56,180.5 L938.81,183.12 L944.09,185.68 L949.41,188.17 L954.76,190.59 L960.12,192.98 L965.54,195.24 L971,197.38 L976.48,199.47 L982.05,201.34 L987.65,203.08 L993.28,204.76 L998.97,206.18 L1004.69,207.5 L1010.44,208.66 L1016.27,209.35 L1022.11,209.93 L1027.97,210.07 L1033.83,209.77 L1039.55,208.66 L1045.14,206.92 L1050.32,204.34 L1054.69,200.46 L1058.18,195.79 L1060.69,190.52 M866.98,131.76 L870.04,136.24 L873.67,140.48 L877.7,144.47 L881.94,148.31 L886.31,152.06 L890.8,155.7 L895.39,159.23 L900.04,162.67 L904.75,166.05 L909.5,169.37 L914.29,172.64 L919.24,175.65 L924.23,178.62 L929.33,181.36 L934.49,184.01 L939.68,186.6 L944.89,189.13 L950.14,191.6 L955.42,193.99 L960.71,196.36 L966.06,198.59 L971.45,200.71 L976.87,202.78 L982.36,204.63 L987.9,206.35 L993.45,208.01 L999.07,209.41 L1004.72,210.72 L1010.4,211.87 L1016.15,212.55 L1021.92,213.11 L1027.71,213.25 L1033.49,212.94 L1039.13,211.8 L1044.65,210.05 L1049.74,207.48 L1054.03,203.61 L1057.48,199 L1060.01,193.81 M868.12,136.46 L871.34,140.77 L875.05,144.86 L879.14,148.7 L883.39,152.43 L887.76,156.07 L892.23,159.63 L896.78,163.08 L901.4,166.46 L906.05,169.79 L910.74,173.07 L915.47,176.3 L920.36,179.28 L925.28,182.21 L930.32,184.91 L935.41,187.52 L940.54,190.08 L945.69,192.58 L950.86,195.02 L956.08,197.39 L961.3,199.73 L966.58,201.94 L971.91,204.03 L977.25,206.09 L982.67,207.91 L988.14,209.61 L993.62,211.26 L999.18,212.64 L1004.75,213.94 L1010.35,215.09 L1016.04,215.74 L1021.74,216.3 L1027.45,216.43 L1033.16,216.1 L1038.72,214.94 L1044.15,213.17 L1049.17,210.61 L1053.37,206.75 L1056.79,202.21 L1059.33,197.11 M869.26,141.16 L872.63,145.31 L876.44,149.24 L880.57,152.94 L884.85,156.55 L889.22,160.09 L893.66,163.56 L898.18,166.94 L902.75,170.26 L907.35,173.53 L911.98,176.77 L916.64,179.97 L921.48,182.9 L926.33,185.8 L931.31,188.47 L936.34,191.04 L941.4,193.56 L946.48,196.03 L951.59,198.44 L956.74,200.79 L961.89,203.11 L967.1,205.29 L972.36,207.36 L977.63,209.4 L982.99,211.2 L988.38,212.88 L993.79,214.51 L999.28,215.87 L1004.78,217.16 L1010.31,218.3 L1015.93,218.93 L1021.55,219.48 L1027.19,219.6 L1032.83,219.27 L1038.3,218.08 L1043.66,216.3 L1048.59,213.74 L1052.71,209.9 L1056.09,205.42 L1058.65,200.41 M870.4,145.87 L873.93,149.85 L877.83,153.62 L882.01,157.18 L886.31,160.67 L890.67,164.11 L895.09,167.49 L899.57,170.8 L904.1,174.05 L908.65,177.27 L913.22,180.47 L917.82,183.63 L922.59,186.53 L927.38,189.39 L932.3,192.02 L937.27,194.55 L942.26,197.03 L947.28,199.48 L952.32,201.87 L957.4,204.18 L962.48,206.48 L967.62,208.64 L972.81,210.69 L978.01,212.72 L983.3,214.49 L988.63,216.14 L993.96,217.77 L999.38,219.1 L1004.81,220.38 L1010.27,221.52 L1015.81,222.12 L1021.36,222.67 L1026.93,222.78 L1032.49,222.44 L1037.89,221.22 L1043.17,219.43 L1048.01,216.87 L1052.05,213.04 L1055.39,208.63 L1057.97,203.7 M871.54,150.57 L875.23,154.38 L879.22,158 L883.45,161.42 L887.76,164.78 L892.12,168.12 L896.51,171.42 L900.97,174.65 L905.45,177.84 L909.95,181.01 L914.46,184.17 L918.99,187.3 L923.71,190.15 L928.43,192.98 L933.29,195.57 L938.2,198.06 L943.13,200.51 L948.08,202.93 L953.05,205.29 L958.06,207.58 L963.07,209.86 L968.14,212 L973.26,214.02 L978.39,216.03 L983.61,217.78 L988.87,219.41 L994.14,221.02 L999.48,222.33 L1004.84,223.6 L1010.22,224.73 L1015.7,225.32 L1021.18,225.86 L1026.67,225.95 L1032.16,225.6 L1037.48,224.36 L1042.67,222.55 L1047.43,220.01 L1051.38,216.19 L1054.69,211.84 L1057.29,207 M872.68,155.27 L876.53,158.92 L880.61,162.39 L884.89,165.66 L889.22,168.9 L893.57,172.14 L897.94,175.35 L902.36,178.51 L906.8,181.64 L911.25,184.75 L915.7,187.87 L920.17,190.97 L924.82,193.77 L929.48,196.57 L934.28,199.12 L939.12,201.57 L943.99,203.99 L948.87,206.38 L953.78,208.72 L958.72,210.98 L963.66,213.24 L968.67,215.35 L973.72,217.35 L978.77,219.34 L983.92,221.06 L989.11,222.67 L994.31,224.27 L999.58,225.57 L1004.87,226.82 L1010.18,227.95 L1015.58,228.51 L1020.99,229.04 L1026.41,229.13 L1031.83,228.77 L1037.06,227.5 L1042.18,225.68 L1046.86,223.14 L1050.72,219.33 L1053.99,215.05 L1056.62,210.3 M873.82,159.98 L877.83,163.46 L882,166.77 L886.33,169.9 L890.68,173.02 L895.02,176.16 L899.37,179.28 L903.76,182.37 L908.15,185.43 L912.55,188.5 L916.95,191.57 L921.34,194.63 L925.94,197.4 L930.53,200.16 L935.27,202.67 L940.05,205.09 L944.85,207.47 L949.67,209.83 L954.51,212.14 L959.38,214.38 L964.25,216.61 L969.19,218.7 L974.17,220.68 L979.16,222.65 L984.24,224.35 L989.36,225.94 L994.48,227.52 L999.69,228.8 L1004.9,230.04 L1010.14,231.16 L1015.47,231.7 L1020.81,232.23 L1026.15,232.3 L1031.5,231.93 L1036.65,230.64 L1041.69,228.81 L1046.28,226.27 L1050.06,222.48 L1053.3,218.26 L1055.94,213.59" clip-path="url(#bodyclip)" fill="none" stroke="#4a4a4a" stroke-width="0.75"/>
<path d="M1067.21,155.91 L1066.77,156.85 L1066.35,157.68 L1065.91,158.46 L1065.46,159.21 L1064.98,159.93 L1064.47,160.62 L1063.95,161.28 L1063.39,161.92 L1062.81,162.54 L1062.21,163.14 L1061.58,163.72 L1060.92,164.28 L1060.24,164.81 L1059.53,165.33 L1058.79,165.83 L1058.03,166.3 L1057.24,166.76 L1056.43,167.2 L1055.59,167.62 L1054.72,168.02 L1053.83,168.4 L1052.92,168.76 L1051.98,169.1 L1051.01,169.42 L1050.02,169.73 L1049,170.01 L1047.96,170.27 L1046.89,170.52 L1045.81,170.75 L1044.69,170.95 L1043.56,171.14 L1042.4,171.31 L1041.21,171.46 L1040.01,171.59 L1038.78,171.7 L1037.53,171.79 L1036.25,171.87 L1034.96,171.92 L1033.64,171.95 L1032.3,171.97 L1030.94,171.97 L1029.56,171.94 L1028.16,171.9 L1026.74,171.84 L1025.3,171.76 L1023.84,171.66 L1022.36,171.54 L1020.87,171.4 L1019.35,171.24 L1017.81,171.07 L1016.26,170.87 L1014.69,170.66 L1013.1,170.42 L1011.5,170.17 L1009.87,169.9 L1008.23,169.61 L1006.58,169.3 L1004.91,168.98 L1003.22,168.63 L1001.52,168.26 L999.8,167.88 L998.07,167.48 L996.33,167.06 L994.56,166.62 L992.79,166.16 L991,165.68 L989.2,165.19 L987.38,164.68 L985.56,164.14 L983.71,163.59 L981.86,163.02 L979.99,162.44 L978.11,161.83 L976.21,161.21 L974.31,160.56 L972.39,159.9 L970.45,159.22 L968.51,158.52 L966.54,157.8 L964.57,157.06 L962.57,156.3 L960.56,155.52 L958.53,154.71 L956.48,153.89 L954.4,153.04 L952.29,152.16 L950.14,151.25 L947.94,150.3 L945.64,149.3 L943.08,148.17 L940.53,147.03 L938.25,146 L936.07,144.99 L933.96,144.01 L931.89,143.03 L929.87,142.06 L927.88,141.09 L925.92,140.12 L923.99,139.15 L922.09,138.18 L920.22,137.2 L918.37,136.23 L916.55,135.25 L914.74,134.27 L912.97,133.29 L911.21,132.31 L909.48,131.32 L907.77,130.33 L906.08,129.33 L904.42,128.34 L902.77,127.34 L901.15,126.34 L899.55,125.33 L897.98,124.33 L896.43,123.32 L894.9,122.31 L893.39,121.3 L891.91,120.28 L890.45,119.26 L889.02,118.25 L887.61,117.23 L886.22,116.21 L884.86,115.19 L883.52,114.16 L882.21,113.14 L880.92,112.12 L879.66,111.1 L878.42,110.07 L877.21,109.05 L876.02,108.03 L874.86,107.01 L873.73,105.99 L872.62,104.97 L871.54,103.95 L870.49,102.93 L869.47,101.92 L868.47,100.9 L867.5,99.89 L866.56,98.88 L865.64,97.88 L864.76,96.87 L863.9,95.87 L863.07,94.87 L862.28,93.88 L861.51,92.89 L860.76,91.9 L860.05,90.92 L859.37,89.94 L858.72,88.97 L858.1,88 L857.51,87.03 L856.94,86.07 L856.41,85.12 L855.91,84.17 L855.44,83.22 L855,82.28 L854.6,81.35 L854.22,80.42 L853.87,79.5 L853.56,78.58 L853.27,77.67 L853.02,76.77 L852.8,75.87 L852.61,74.98 L852.46,74.09 L852.33,73.22 L852.24,72.34 L852.18,71.48 L852.16,70.61 L852.16,69.76 L852.2,68.91 L852.27,68.06 L852.38,67.22 L852.52,66.39 L852.7,65.55 L852.91,64.71 L853.15,63.87 L853.44,63.03 L853.78,62.16 L854.18,61.2 L854.62,60.25 L855.04,59.42 L855.48,58.64 L855.94,57.89 L856.42,57.18 L856.92,56.49 L857.45,55.82 L858,55.18 L858.58,54.56 L859.19,53.96 L859.82,53.38 L860.47,52.83 L861.16,52.29 L861.87,51.77 L862.6,51.28 L863.36,50.8 L864.15,50.34 L864.97,49.9 L865.81,49.49 L866.67,49.09 L867.56,48.71 L868.48,48.34 L869.42,48 L870.39,47.68 L871.38,47.38 L872.39,47.09 L873.44,46.83 L874.5,46.58 L875.59,46.36 L876.7,46.15 L877.84,45.96 L879,45.79 L880.18,45.64 L881.39,45.51 L882.62,45.4 L883.87,45.31 L885.14,45.24 L886.44,45.18 L887.75,45.15 L889.09,45.13 L890.45,45.14 L891.83,45.16 L893.23,45.2 L894.65,45.27 L896.09,45.35 L897.55,45.45 L899.03,45.57 L900.53,45.7 L902.05,45.86 L903.58,46.04 L905.13,46.23 L906.71,46.45 L908.29,46.68 L909.9,46.93 L911.52,47.2 L913.16,47.49 L914.82,47.8 L916.49,48.13 L918.17,48.47 L919.87,48.84 L921.59,49.22 L923.32,49.63 L925.07,50.05 L926.83,50.49 L928.61,50.94 L930.39,51.42 L932.2,51.91 L934.01,52.43 L935.84,52.96 L937.68,53.51 L939.54,54.08 L941.41,54.67 L943.29,55.27 L945.18,55.9 L947.09,56.54 L949.01,57.2 L950.94,57.88 L952.89,58.59 L954.85,59.31 L956.83,60.05 L958.82,60.81 L960.83,61.59 L962.86,62.39 L964.92,63.22 L967,64.07 L969.1,64.94 L971.25,65.85 L973.46,66.8 L975.75,67.8 L978.31,68.93 L980.87,70.07 L983.15,71.11 L985.33,72.11 L987.44,73.1 L989.51,74.07 L991.53,75.05 L993.52,76.02 L995.47,76.99 L997.4,77.96 L999.3,78.93 L1001.18,79.9 L1003.03,80.87 L1004.85,81.85 L1006.65,82.83 L1008.43,83.81 L1010.18,84.8 L1011.92,85.79 L1013.63,86.78 L1015.32,87.77 L1016.98,88.77 L1018.62,89.76 L1020.24,90.77 L1021.84,91.77 L1023.42,92.78 L1024.97,93.78 L1026.5,94.8 L1028,95.81 L1029.48,96.82 L1030.94,97.84 L1032.38,98.86 L1033.79,99.88 L1035.18,100.9 L1036.54,101.92 L1037.88,102.94 L1039.19,103.96 L1040.48,104.98 L1041.74,106.01 L1042.98,107.03 L1044.19,108.05 L1045.37,109.08 L1046.53,110.1 L1047.67,111.12 L1048.77,112.14 L1049.85,113.16 L1050.9,114.17 L1051.93,115.19 L1052.93,116.2 L1053.9,117.21 L1054.84,118.22 L1055.75,119.23 L1056.64,120.23 L1057.49,121.23 L1058.32,122.23 L1059.12,123.22 L1059.89,124.21 L1060.63,125.2 L1061.34,126.18 L1062.02,127.16 L1062.68,128.14 L1063.3,129.11 L1063.89,130.07 L1064.45,131.03 L1064.98,131.99 L1065.48,132.94 L1065.95,133.88 L1066.39,134.82 L1066.8,135.76 L1067.18,136.68 L1067.52,137.61 L1067.84,138.52 L1068.12,139.43 L1068.37,140.34 L1068.59,141.23 L1068.78,142.12 L1068.94,143.01 L1069.06,143.89 L1069.15,144.76 L1069.21,145.63 L1069.24,146.49 L1069.23,147.34 L1069.19,148.19 L1069.12,149.04 L1069.02,149.88 L1068.87,150.72 L1068.7,151.55 L1068.49,152.39 L1068.24,153.23 L1067.95,154.08 L1067.62,154.95Z" fill="#fff" stroke="#111" stroke-width="1.5"/>
<path d="M1068.64,152.55 L1068.24,153.43 L1067.83,154.23 L1067.4,155 L1066.95,155.73 L1066.47,156.44 L1065.97,157.12 L1065.43,157.78 L1064.87,158.41 L1064.28,159.02 L1063.66,159.61 L1063.01,160.18 L1062.34,160.72 L1061.64,161.24 L1060.91,161.74 L1060.16,162.22 L1059.38,162.68 L1058.58,163.12 L1057.75,163.54 L1056.9,163.94 L1056.02,164.31 L1055.12,164.67 L1054.19,165.01 L1053.24,165.33 L1052.26,165.63 L1051.26,165.9 L1050.24,166.16 L1049.2,166.4 L1048.13,166.63 L1047.04,166.83 L1045.92,167.01 L1044.78,167.18 L1043.62,167.32 L1042.44,167.45 L1041.24,167.56 L1040.01,167.65 L1038.77,167.72 L1037.5,167.77 L1036.21,167.81 L1034.9,167.82 L1033.57,167.82 L1032.22,167.8 L1030.85,167.76 L1029.46,167.7 L1028.05,167.63 L1026.62,167.53 L1025.17,167.42 L1023.71,167.29 L1022.22,167.15 L1020.72,166.98 L1019.2,166.8 L1017.66,166.59 L1016.11,166.37 L1014.54,166.14 L1012.95,165.88 L1011.35,165.61 L1009.73,165.32 L1008.09,165.01 L1006.44,164.69 L1004.78,164.34 L1003.1,163.98 L1001.4,163.6 L999.7,163.21 L997.98,162.8 L996.24,162.37 L994.49,161.92 L992.73,161.45 L990.96,160.97 L989.17,160.47 L987.38,159.96 L985.57,159.43 L983.74,158.88 L981.91,158.31 L980.07,157.73 L978.21,157.13 L976.34,156.51 L974.46,155.88 L972.57,155.22 L970.67,154.55 L968.76,153.87 L966.83,153.16 L964.89,152.44 L962.93,151.7 L960.96,150.94 L958.98,150.16 L956.97,149.36 L954.94,148.54 L952.87,147.69 L950.77,146.81 L948.59,145.88 L946.21,144.86 L943.84,143.83 L941.67,142.87 L939.59,141.94 L937.56,141.02 L935.57,140.1 L933.61,139.18 L931.68,138.27 L929.78,137.35 L927.9,136.43 L926.04,135.51 L924.21,134.59 L922.4,133.66 L920.61,132.73 L918.84,131.8 L917.09,130.86 L915.37,129.92 L913.66,128.98 L911.97,128.04 L910.3,127.09 L908.65,126.14 L907.03,125.18 L905.42,124.22 L903.84,123.26 L902.27,122.3 L900.73,121.33 L899.21,120.36 L897.71,119.39 L896.23,118.42 L894.77,117.45 L893.33,116.47 L891.92,115.49 L890.53,114.51 L889.17,113.53 L887.82,112.55 L886.5,111.57 L885.21,110.59 L883.93,109.61 L882.69,108.62 L881.46,107.64 L880.26,106.66 L879.09,105.68 L877.94,104.69 L876.82,103.71 L875.72,102.73 L874.65,101.75 L873.6,100.78 L872.58,99.8 L871.59,98.83 L870.62,97.85 L869.68,96.88 L868.77,95.91 L867.88,94.95 L867.03,93.98 L866.2,93.02 L865.4,92.07 L864.62,91.11 L863.88,90.16 L863.16,89.21 L862.48,88.26 L861.82,87.32 L861.19,86.38 L860.59,85.45 L860.02,84.52 L859.48,83.59 L858.97,82.67 L858.49,81.75 L858.04,80.83 L857.62,79.92 L857.23,79.02 L856.87,78.11 L856.55,77.21 L856.25,76.32 L855.99,75.43 L855.76,74.54 L855.56,73.66 L855.4,72.79 L855.26,71.91 L855.17,71.05 L855.1,70.18 L855.07,69.32 L855.08,68.47 L855.12,67.62 L855.2,66.78 L855.31,65.94 L855.46,65.1 L855.65,64.27 L855.87,63.44 L856.14,62.6 L856.44,61.76 L856.81,60.86 L857.21,59.98 L857.62,59.18 L858.05,58.41 L858.5,57.68 L858.98,56.98 L859.49,56.29 L860.02,55.64 L860.58,55 L861.17,54.39 L861.79,53.8 L862.44,53.24 L863.11,52.69 L863.81,52.17 L864.54,51.67 L865.29,51.19 L866.07,50.73 L866.87,50.29 L867.7,49.87 L868.55,49.48 L869.43,49.1 L870.33,48.74 L871.26,48.4 L872.21,48.09 L873.19,47.79 L874.19,47.51 L875.21,47.25 L876.25,47.01 L877.32,46.79 L878.42,46.58 L879.53,46.4 L880.67,46.24 L881.83,46.09 L883.01,45.96 L884.21,45.85 L885.44,45.76 L886.69,45.69 L887.95,45.64 L889.24,45.61 L890.55,45.59 L891.88,45.59 L893.23,45.61 L894.6,45.65 L895.99,45.71 L897.4,45.78 L898.83,45.88 L900.28,45.99 L901.75,46.12 L903.23,46.27 L904.73,46.43 L906.25,46.62 L907.79,46.82 L909.34,47.04 L910.91,47.28 L912.5,47.53 L914.1,47.8 L915.72,48.09 L917.36,48.4 L919.01,48.73 L920.67,49.07 L922.35,49.43 L924.05,49.81 L925.75,50.2 L927.48,50.62 L929.21,51.05 L930.96,51.49 L932.72,51.96 L934.49,52.44 L936.28,52.94 L938.08,53.45 L939.88,53.99 L941.71,54.54 L943.54,55.1 L945.38,55.69 L947.24,56.29 L949.11,56.9 L950.99,57.54 L952.88,58.19 L954.78,58.86 L956.69,59.54 L958.62,60.25 L960.56,60.97 L962.52,61.71 L964.49,62.47 L966.47,63.25 L968.48,64.05 L970.52,64.88 L972.58,65.73 L974.69,66.61 L976.86,67.53 L979.24,68.55 L981.61,69.59 L983.78,70.54 L985.86,71.47 L987.89,72.4 L989.88,73.32 L991.84,74.23 L993.77,75.15 L995.67,76.06 L997.55,76.98 L999.41,77.9 L1001.24,78.83 L1003.05,79.75 L1004.84,80.68 L1006.61,81.61 L1008.36,82.55 L1010.09,83.49 L1011.79,84.43 L1013.48,85.38 L1015.15,86.33 L1016.8,87.28 L1018.42,88.23 L1020.03,89.19 L1021.61,90.15 L1023.18,91.11 L1024.72,92.08 L1026.24,93.05 L1027.75,94.02 L1029.22,94.99 L1030.68,95.97 L1032.12,96.94 L1033.53,97.92 L1034.92,98.9 L1036.28,99.88 L1037.63,100.86 L1038.95,101.84 L1040.24,102.82 L1041.52,103.81 L1042.76,104.79 L1043.99,105.77 L1045.19,106.76 L1046.36,107.74 L1047.51,108.72 L1048.63,109.7 L1049.73,110.68 L1050.8,111.66 L1051.85,112.64 L1052.87,113.61 L1053.86,114.59 L1054.83,115.56 L1055.77,116.53 L1056.68,117.5 L1057.57,118.47 L1058.42,119.43 L1059.25,120.39 L1060.05,121.35 L1060.83,122.3 L1061.57,123.25 L1062.29,124.2 L1062.98,125.15 L1063.63,126.09 L1064.26,127.03 L1064.86,127.96 L1065.43,128.89 L1065.97,129.82 L1066.48,130.74 L1066.96,131.66 L1067.41,132.58 L1067.83,133.49 L1068.22,134.4 L1068.58,135.3 L1068.91,136.2 L1069.2,137.09 L1069.46,137.98 L1069.69,138.87 L1069.89,139.75 L1070.05,140.63 L1070.19,141.5 L1070.28,142.37 L1070.35,143.23 L1070.38,144.09 L1070.37,144.94 L1070.33,145.79 L1070.25,146.64 L1070.14,147.48 L1069.99,148.31 L1069.8,149.14 L1069.58,149.98 L1069.31,150.81 L1069.01,151.65Z" fill="none" stroke="#111" stroke-width="0.9"/>
<path d="M1067.08,151.87 L1066.7,152.7 L1066.33,153.44 L1065.94,154.14 L1065.53,154.81 L1065.09,155.45 L1064.62,156.07 L1064.14,156.67 L1063.62,157.25 L1063.08,157.81 L1062.51,158.35 L1061.92,158.88 L1061.3,159.38 L1060.65,159.86 L1059.97,160.33 L1059.27,160.78 L1058.54,161.21 L1057.79,161.62 L1057.01,162.01 L1056.2,162.39 L1055.37,162.74 L1054.51,163.08 L1053.63,163.4 L1052.72,163.71 L1051.79,163.99 L1050.83,164.26 L1049.84,164.51 L1048.83,164.74 L1047.8,164.96 L1046.74,165.15 L1045.66,165.33 L1044.56,165.49 L1043.43,165.63 L1042.27,165.76 L1041.1,165.86 L1039.9,165.95 L1038.68,166.02 L1037.44,166.07 L1036.18,166.11 L1034.89,166.12 L1033.58,166.12 L1032.25,166.1 L1030.91,166.06 L1029.54,166.01 L1028.15,165.93 L1026.74,165.84 L1025.31,165.73 L1023.86,165.6 L1022.4,165.45 L1020.91,165.29 L1019.41,165.11 L1017.89,164.91 L1016.35,164.69 L1014.8,164.46 L1013.23,164.21 L1011.64,163.93 L1010.03,163.65 L1008.41,163.34 L1006.78,163.02 L1005.13,162.68 L1003.46,162.32 L1001.78,161.95 L1000.09,161.55 L998.38,161.14 L996.66,160.72 L994.92,160.27 L993.17,159.81 L991.41,159.33 L989.64,158.84 L987.85,158.33 L986.05,157.8 L984.24,157.25 L982.42,156.69 L980.58,156.11 L978.74,155.51 L976.88,154.9 L975.01,154.27 L973.13,153.62 L971.24,152.95 L969.34,152.27 L967.42,151.57 L965.49,150.85 L963.54,150.11 L961.58,149.36 L959.6,148.58 L957.6,147.78 L955.58,146.96 L953.52,146.12 L951.43,145.24 L949.26,144.32 L946.89,143.3 L944.52,142.27 L942.36,141.32 L940.29,140.39 L938.27,139.47 L936.28,138.56 L934.33,137.64 L932.41,136.73 L930.52,135.82 L928.65,134.91 L926.8,133.99 L924.98,133.07 L923.18,132.15 L921.4,131.23 L919.64,130.3 L917.9,129.37 L916.18,128.43 L914.48,127.5 L912.81,126.56 L911.15,125.61 L909.51,124.67 L907.89,123.72 L906.3,122.77 L904.72,121.81 L903.17,120.85 L901.64,119.89 L900.12,118.93 L898.63,117.97 L897.17,117 L895.72,116.04 L894.3,115.07 L892.9,114.1 L891.52,113.13 L890.16,112.16 L888.83,111.18 L887.52,110.21 L886.24,109.24 L884.98,108.27 L883.74,107.29 L882.53,106.32 L881.35,105.35 L880.19,104.38 L879.05,103.41 L877.94,102.44 L876.86,101.47 L875.8,100.5 L874.77,99.54 L873.76,98.58 L872.79,97.62 L871.83,96.66 L870.91,95.71 L870.02,94.76 L869.15,93.81 L868.31,92.86 L867.49,91.92 L866.71,90.99 L865.95,90.05 L865.23,89.12 L864.53,88.2 L863.86,87.28 L863.22,86.36 L862.61,85.45 L862.03,84.55 L861.48,83.65 L860.96,82.75 L860.46,81.86 L860,80.98 L859.57,80.1 L859.17,79.23 L858.8,78.37 L858.46,77.51 L858.15,76.66 L857.87,75.81 L857.63,74.98 L857.41,74.14 L857.23,73.32 L857.07,72.5 L856.95,71.69 L856.86,70.89 L856.8,70.09 L856.77,69.3 L856.78,68.52 L856.82,67.74 L856.89,66.97 L856.99,66.2 L857.13,65.44 L857.3,64.68 L857.5,63.92 L857.75,63.15 L858.03,62.38 L858.37,61.54 L858.75,60.71 L859.12,59.98 L859.51,59.28 L859.93,58.61 L860.36,57.96 L860.83,57.34 L861.32,56.74 L861.83,56.16 L862.37,55.6 L862.94,55.06 L863.53,54.54 L864.16,54.03 L864.8,53.55 L865.48,53.08 L866.18,52.64 L866.91,52.21 L867.66,51.8 L868.44,51.4 L869.25,51.03 L870.08,50.67 L870.94,50.33 L871.82,50.01 L872.73,49.7 L873.66,49.42 L874.62,49.15 L875.61,48.9 L876.62,48.67 L877.65,48.46 L878.71,48.26 L879.79,48.08 L880.9,47.92 L882.02,47.78 L883.18,47.66 L884.35,47.55 L885.55,47.46 L886.77,47.39 L888.01,47.34 L889.28,47.31 L890.56,47.29 L891.87,47.29 L893.2,47.31 L894.54,47.35 L895.91,47.41 L897.3,47.48 L898.71,47.57 L900.14,47.68 L901.59,47.81 L903.05,47.96 L904.54,48.12 L906.04,48.3 L907.56,48.5 L909.1,48.72 L910.65,48.96 L912.22,49.21 L913.81,49.48 L915.42,49.77 L917.04,50.07 L918.67,50.39 L920.32,50.73 L921.99,51.09 L923.67,51.47 L925.36,51.86 L927.07,52.27 L928.79,52.7 L930.53,53.14 L932.28,53.6 L934.04,54.08 L935.81,54.57 L937.6,55.09 L939.4,55.62 L941.21,56.16 L943.03,56.72 L944.87,57.3 L946.71,57.9 L948.57,58.52 L950.44,59.15 L952.32,59.79 L954.21,60.46 L956.12,61.14 L958.03,61.84 L959.96,62.56 L961.91,63.3 L963.87,64.06 L965.85,64.83 L967.85,65.63 L969.87,66.45 L971.93,67.3 L974.03,68.17 L976.19,69.09 L978.56,70.11 L980.93,71.14 L983.09,72.09 L985.16,73.02 L987.18,73.94 L989.17,74.86 L991.12,75.77 L993.04,76.68 L994.93,77.59 L996.8,78.51 L998.65,79.42 L1000.47,80.34 L1002.27,81.26 L1004.05,82.19 L1005.81,83.11 L1007.55,84.05 L1009.27,84.98 L1010.97,85.92 L1012.65,86.86 L1014.3,87.8 L1015.94,88.75 L1017.56,89.7 L1019.15,90.65 L1020.73,91.6 L1022.28,92.56 L1023.82,93.52 L1025.33,94.48 L1026.82,95.44 L1028.28,96.41 L1029.73,97.38 L1031.15,98.34 L1032.55,99.31 L1033.93,100.28 L1035.29,101.26 L1036.62,102.23 L1037.93,103.2 L1039.21,104.17 L1040.47,105.15 L1041.71,106.12 L1042.92,107.09 L1044.1,108.06 L1045.26,109.04 L1046.4,110.01 L1047.51,110.97 L1048.59,111.94 L1049.65,112.91 L1050.68,113.87 L1051.69,114.83 L1052.67,115.79 L1053.62,116.75 L1054.54,117.7 L1055.44,118.66 L1056.3,119.6 L1057.14,120.55 L1057.96,121.49 L1058.74,122.43 L1059.5,123.36 L1060.22,124.29 L1060.92,125.21 L1061.59,126.14 L1062.23,127.05 L1062.84,127.96 L1063.42,128.87 L1063.97,129.77 L1064.5,130.66 L1064.99,131.55 L1065.45,132.43 L1065.88,133.31 L1066.28,134.18 L1066.65,135.04 L1066.99,135.9 L1067.3,136.75 L1067.58,137.6 L1067.82,138.44 L1068.04,139.27 L1068.22,140.09 L1068.38,140.91 L1068.5,141.72 L1068.59,142.52 L1068.65,143.32 L1068.68,144.11 L1068.67,144.9 L1068.63,145.67 L1068.56,146.45 L1068.46,147.21 L1068.32,147.98 L1068.15,148.74 L1067.95,149.5 L1067.7,150.26 L1067.42,151.04Z" fill="none" stroke="#111" stroke-width="1.0"/>
<g stroke="#111" fill="none" stroke-width="1.2">
<path d="M903.1,120.6 Q918,115.5 940,119.4 Q985,143 1026.3,168.1"/>
<path d="M910,126.3 Q922,123.5 938.8,128.1 Q976,147 1012.5,168.1"/>
<line x1="941.3" y1="120.6" x2="938.8" y2="128.1" stroke-width="1.2"/>
<line x1="997.8" y1="91.1" x2="1006.3" y2="94.8" stroke-width="2.6"/>
</g>
<g transform="translate(280.6 130.5) rotate(-90)" font-family="Liberation Serif" fill="#222"><text x="0" y="0" font-size="20.8" transform="scale(0.87 1)">4</text><text x="10.13" y="0" font-size="20.8" transform="scale(0.87 1)">5</text><text x="20.27" y="0" font-size="20.8" transform="scale(0.87 1)">0</text><text x="21.37" y="-1.0" font-size="16.64" transform="scale(1.35 1)">(</text><text x="42.65" y="0" font-size="20.8" transform="scale(0.87 1)">1</text><text x="52.78" y="0" font-size="20.8" transform="scale(0.87 1)">7</text><text x="57.73" y="0" font-size="20.8">.</text><text x="76.94" y="0" font-size="20.8" transform="scale(0.87 1)">7</text><text x="87.07" y="0" font-size="20.8" transform="scale(0.87 1)">2</text><text x="85.07" y="-1" font-size="19.76" font-weight="bold">&#8243;</text><text x="70.46" y="-1.0" font-size="16.64" transform="scale(1.35 1)">)</text></g>
<g transform="translate(365 122.8) rotate(-90)" font-family="Liberation Serif" fill="#222"><text x="0" y="0" font-size="20.8" transform="scale(0.87 1)">7</text><text x="9.87" y="0" font-size="20.8" transform="scale(0.87 1)">0</text><text x="14.5" y="-1.0" font-size="16.64" transform="scale(1.35 1)">(</text><text x="31.67" y="0" font-size="20.8" transform="scale(0.87 1)">2</text><text x="39.15" y="0" font-size="20.8">.</text><text x="55.21" y="0" font-size="20.8" transform="scale(0.87 1)">8</text><text x="57.12" y="-1" font-size="19.76" font-weight="bold">&#8243;</text><text x="49.55" y="-1.0" font-size="16.64" transform="scale(1.35 1)">)</text></g>
<g transform="translate(539.6 130) rotate(-90)" font-family="Liberation Serif" fill="#222"><text x="0" y="0" font-size="20.8" transform="scale(0.87 1)">3</text><text x="11.02" y="0" font-size="20.8" transform="scale(0.87 1)">0</text><text x="15.99" y="-1.0" font-size="16.64" transform="scale(1.35 1)">(</text><text x="35.37" y="0" font-size="20.8" transform="scale(0.87 1)">1</text><text x="43.36" y="0" font-size="20.8">.</text><text x="61.66" y="0" font-size="20.8" transform="scale(0.87 1)">1</text><text x="72.68" y="0" font-size="20.8" transform="scale(0.87 1)">8</text><text x="73.32" y="-1" font-size="19.76" font-weight="bold">&#8243;</text><text x="62.46" y="-1.0" font-size="16.64" transform="scale(1.35 1)">)</text></g>
<g transform="translate(565 149) rotate(-90)" font-family="Liberation Serif" fill="#222"><text x="0" y="0" font-size="20.8" transform="scale(0.87 1)">5</text><text x="10.21" y="0" font-size="20.8" transform="scale(0.87 1)">9</text><text x="20.42" y="0" font-size="20.8" transform="scale(0.87 1)">0</text><text x="21.52" y="-1.0" font-size="16.64" transform="scale(1.35 1)">(</text><text x="42.98" y="0" font-size="20.8" transform="scale(0.87 1)">2</text><text x="53.19" y="0" font-size="20.8" transform="scale(0.87 1)">3</text><text x="58.16" y="0" font-size="20.8">.</text><text x="77.54" y="0" font-size="20.8" transform="scale(0.87 1)">2</text><text x="87.76" y="0" font-size="20.8" transform="scale(0.87 1)">2</text><text x="85.73" y="-1" font-size="19.76" font-weight="bold">&#8243;</text><text x="71.01" y="-1.0" font-size="16.64" transform="scale(1.35 1)">)</text></g>
<g transform="translate(273.1 198) rotate(0)" font-family="Liberation Serif" fill="#222"><text x="0" y="0" font-size="20.8" transform="scale(0.87 1)">1</text><text x="10.04" y="0" font-size="20.8" transform="scale(0.87 1)">4</text><text x="20.08" y="0" font-size="20.8" transform="scale(0.87 1)">0</text><text x="30.12" y="0" font-size="20.8" transform="scale(0.87 1)">0</text><text x="27.66" y="-1.0" font-size="16.64" transform="scale(1.35 1)">(</text><text x="52.3" y="0" font-size="20.8" transform="scale(0.87 1)">5</text><text x="62.34" y="0" font-size="20.8" transform="scale(0.87 1)">5</text><text x="65.97" y="0" font-size="20.8">.</text><text x="86.28" y="0" font-size="20.8" transform="scale(0.87 1)">1</text><text x="96.32" y="0" font-size="20.8" transform="scale(0.87 1)">1</text><text x="93.03" y="-1" font-size="19.76" font-weight="bold">&#8243;</text><text x="76.28" y="-1.0" font-size="16.64" transform="scale(1.35 1)">)</text></g>
<g transform="translate(288 250.5) rotate(0)" font-family="Liberation Serif" fill="#222"><text x="0" y="0" font-size="20.8" transform="scale(0.87 1)">1</text><text x="10.06" y="0" font-size="20.8" transform="scale(0.87 1)">7</text><text x="20.12" y="0" font-size="20.8" transform="scale(0.87 1)">0</text><text x="30.18" y="0" font-size="20.8" transform="scale(0.87 1)">0</text><text x="27.71" y="-1.0" font-size="16.64" transform="scale(1.35 1)">(</text><text x="52.4" y="0" font-size="20.8" transform="scale(0.87 1)">6</text><text x="62.46" y="0" font-size="20.8" transform="scale(0.87 1)">7</text><text x="63.59" y="-1" font-size="19.76" font-weight="bold">&#8243;</text><text x="54.49" y="-1.0" font-size="16.64" transform="scale(1.35 1)">)</text></g>
<g transform="translate(272 272.5) rotate(0)" font-family="Liberation Serif" fill="#222"><text x="0" y="0" font-size="20.8" transform="scale(0.87 1)">1</text><text x="10.17" y="0" font-size="20.8" transform="scale(0.87 1)">1</text><text x="20.34" y="0" font-size="20.8" transform="scale(0.87 1)">6</text><text x="30.5" y="0" font-size="20.8" transform="scale(0.87 1)">0</text><text x="27.99" y="-1.0" font-size="16.64" transform="scale(1.35 1)">(</text><text x="52.96" y="0" font-size="20.8" transform="scale(0.87 1)">4</text><text x="63.13" y="0" font-size="20.8" transform="scale(0.87 1)">5</text><text x="66.77" y="0" font-size="20.8">.</text><text x="87.38" y="0" font-size="20.8" transform="scale(0.87 1)">6</text><text x="97.54" y="0" font-size="20.8" transform="scale(0.87 1)">7</text><text x="94.21" y="-1" font-size="19.76" font-weight="bold">&#8243;</text><text x="77.26" y="-1.0" font-size="16.64" transform="scale(1.35 1)">)</text></g>
<g transform="translate(528.8 274.6) rotate(0)" font-family="Liberation Serif" fill="#222"><text x="0" y="0" font-size="20.8" transform="scale(0.87 1)">2</text><text x="9.72" y="0" font-size="20.8" transform="scale(0.87 1)">0</text><text x="14.31" y="-1.0" font-size="16.64" transform="scale(1.35 1)">(</text><text x="31.2" y="0" font-size="20.8" transform="scale(0.87 1)">0</text><text x="38.61" y="0" font-size="20.8">.</text><text x="54.39" y="0" font-size="20.8" transform="scale(0.87 1)">8</text><text x="56.28" y="-1" font-size="19.76" font-weight="bold">&#8243;</text><text x="48.81" y="-1.0" font-size="16.64" transform="scale(1.35 1)">)</text></g>
<g transform="translate(558.2 432.4) rotate(-90)" font-family="Liberation Serif" fill="#222"><text x="0" y="0" font-size="20.8" transform="scale(0.87 1)">5</text><text x="10.15" y="0" font-size="20.8" transform="scale(0.87 1)">2</text><text x="20.3" y="0" font-size="20.8" transform="scale(0.87 1)">0</text><text x="21.41" y="-1.0" font-size="16.64" transform="scale(1.35 1)">(</text><text x="42.73" y="0" font-size="20.8" transform="scale(0.87 1)">2</text><text x="52.88" y="0" font-size="20.8" transform="scale(0.87 1)">0</text><text x="57.84" y="0" font-size="20.8">.</text><text x="77.09" y="0" font-size="20.8" transform="scale(0.87 1)">4</text><text x="87.24" y="0" font-size="20.8" transform="scale(0.87 1)">7</text><text x="85.23" y="-1" font-size="19.76" font-weight="bold">&#8243;</text><text x="70.6" y="-1.0" font-size="16.64" transform="scale(1.35 1)">)</text></g>
<g transform="translate(585.8 426.5) rotate(-90)" font-family="Liberation Serif" fill="#222"><text x="0" y="0" font-size="20.8" transform="scale(0.87 1)">8</text><text x="9.93" y="0" font-size="20.8" transform="scale(0.87 1)">0</text><text x="19.86" y="0" font-size="20.8" transform="scale(0.87 1)">0</text><text x="20.97" y="-1.0" font-size="16.64" transform="scale(1.35 1)">(</text><text x="41.79" y="0" font-size="20.8" transform="scale(0.87 1)">3</text><text x="51.71" y="0" font-size="20.8" transform="scale(0.87 1)">1</text><text x="56.63" y="0" font-size="20.8">.</text><text x="75.39" y="0" font-size="20.8" transform="scale(0.87 1)">5</text><text x="74.73" y="-1" font-size="19.76" font-weight="bold">&#8243;</text><text x="62.63" y="-1.0" font-size="16.64" transform="scale(1.35 1)">)</text></g>
<g transform="translate(337.2 373.6) rotate(-24.9)" fill="#222"><text x="0" y="0" font-family="Liberation Sans" font-size="19.5" textLength="35" lengthAdjust="spacingAndGlyphs">&#981;50</text></g>
<g transform="translate(373.5 357.4) rotate(-24.9)" font-family="Liberation Serif" fill="#222"><text x="1.78" y="-1.0" font-size="16.64" transform="scale(1.35 1)">(</text><text x="11.88" y="0" font-size="20.8" transform="scale(0.87 1)">2</text><text x="19.39" y="-1" font-size="19.76" font-weight="bold">&#8243;</text><text x="21.57" y="-1.0" font-size="16.64" transform="scale(1.35 1)">)</text></g>
<g transform="translate(686 432.5) rotate(-90)" font-family="Liberation Serif" fill="#222"><text x="0" y="0" font-size="20.8" transform="scale(0.87 1)">6</text><text x="10.12" y="0" font-size="20.8" transform="scale(0.87 1)">0</text><text x="20.25" y="0" font-size="20.8" transform="scale(0.87 1)">0</text><text x="21.35" y="-1.0" font-size="16.64" transform="scale(1.35 1)">(</text><text x="42.6" y="0" font-size="20.8" transform="scale(0.87 1)">2</text><text x="52.73" y="0" font-size="20.8" transform="scale(0.87 1)">3</text><text x="57.68" y="0" font-size="20.8">.</text><text x="76.87" y="0" font-size="20.8" transform="scale(0.87 1)">6</text><text x="86.99" y="0" font-size="20.8" transform="scale(0.87 1)">2</text><text x="84.99" y="-1" font-size="19.76" font-weight="bold">&#8243;</text><text x="70.39" y="-1.0" font-size="16.64" transform="scale(1.35 1)">)</text></g>
<g transform="translate(374 515) rotate(0)" font-family="Liberation Serif" fill="#222"><text x="0" y="0" font-size="20.8" transform="scale(0.87 1)">3</text><text x="9.88" y="0" font-size="20.8" transform="scale(0.87 1)">7</text><text x="19.77" y="0" font-size="20.8" transform="scale(0.87 1)">5</text><text x="20.89" y="-1.0" font-size="16.64" transform="scale(1.35 1)">(</text><text x="41.6" y="0" font-size="20.8" transform="scale(0.87 1)">1</text><text x="51.49" y="0" font-size="20.8" transform="scale(0.87 1)">4</text><text x="56.39" y="0" font-size="20.8">.</text><text x="75.06" y="0" font-size="20.8" transform="scale(0.87 1)">7</text><text x="84.94" y="0" font-size="20.8" transform="scale(0.87 1)">6</text><text x="83" y="-1" font-size="19.76" font-weight="bold">&#8243;</text><text x="68.73" y="-1.0" font-size="16.64" transform="scale(1.35 1)">)</text></g>
<g transform="translate(165 544.8) rotate(0)" font-family="Liberation Serif" fill="#222"><text x="0" y="0" font-size="20.8" transform="scale(0.87 1)">1</text><text x="9.98" y="0" font-size="20.8" transform="scale(0.87 1)">1</text><text x="19.96" y="0" font-size="20.8" transform="scale(0.87 1)">0</text><text x="21.08" y="-1.0" font-size="16.64" transform="scale(1.35 1)">(</text><text x="42.01" y="0" font-size="20.8" transform="scale(0.87 1)">4</text><text x="48.24" y="0" font-size="20.8">.</text><text x="65.82" y="0" font-size="20.8" transform="scale(0.87 1)">3</text><text x="75.8" y="0" font-size="20.8" transform="scale(0.87 1)">3</text><text x="75.13" y="-1" font-size="19.76" font-weight="bold">&#8243;</text><text x="62.98" y="-1.0" font-size="16.64" transform="scale(1.35 1)">)</text></g>
<g transform="translate(397 544.8) rotate(0)" font-family="Liberation Serif" fill="#222"><text x="0" y="0" font-size="20.8" transform="scale(0.87 1)">1</text><text x="10.2" y="0" font-size="20.8" transform="scale(0.87 1)">1</text><text x="20.4" y="0" font-size="20.8" transform="scale(0.87 1)">0</text><text x="21.5" y="-1.0" font-size="16.64" transform="scale(1.35 1)">(</text><text x="42.93" y="0" font-size="20.8" transform="scale(0.87 1)">4</text><text x="49.22" y="0" font-size="20.8">.</text><text x="67.25" y="0" font-size="20.8" transform="scale(0.87 1)">3</text><text x="77.45" y="0" font-size="20.8" transform="scale(0.87 1)">3</text><text x="76.75" y="-1" font-size="19.76" font-weight="bold">&#8243;</text><text x="64.35" y="-1.0" font-size="16.64" transform="scale(1.35 1)">)</text></g>
<g fill="#2a2a2a">
<text x="614.5" y="644.2" font-size="27.3" font-family="Liberation Mono" textLength="262.5" lengthAdjust="spacingAndGlyphs">Note: dimension error</text>
<text x="876.5" y="644.6" font-size="30" font-family="Liberation Sans" textLength="19" lengthAdjust="spacingAndGlyphs">&#177;</text>
<text x="898.5" y="644.2" font-size="27.3" font-family="Liberation Mono" textLength="36.5" lengthAdjust="spacingAndGlyphs">5mm</text>
<text x="1069.4" y="659.4" font-size="16.2" font-family="Liberation Mono" textLength="120.4" lengthAdjust="spacingAndGlyphs">Unit : mm(inch)</text>
<text x="742.7" y="692" font-size="18.8" font-family="Liberation Mono" textLength="94.2" lengthAdjust="spacingAndGlyphs">Range Name</text>
<text x="904.8" y="695" font-size="18.8" font-family="Liberation Mono" textLength="113.8" lengthAdjust="spacingAndGlyphs">Product Code</text>
<text x="1086.4" y="695" font-size="18.8" font-family="Liberation Mono" textLength="104.2" lengthAdjust="spacingAndGlyphs">Description</text>
<text x="763.1" y="744.8" font-size="18.8" font-family="Liberation Mono" textLength="66.5" lengthAdjust="spacingAndGlyphs">Bathtub</text>
<text x="925.2" y="751.8" font-size="19.8" font-family="Liberation Mono" textLength="85.2" lengthAdjust="spacingAndGlyphs">6074-1700</text>
<text x="1065.1" y="753.4" font-size="15.6" font-family="Liberation Serif" textLength="110.8" lengthAdjust="spacingAndGlyphs">1700*800*590mm</text>
</g>
<g stroke="#1a1a1a" fill="none">
<line x1="717.3" y1="663" x2="1200" y2="663" stroke-width="1.6"/>
<line x1="717.3" y1="717" x2="1200" y2="717" stroke-width="1.6"/>
<line x1="0" y1="772.4" x2="1200" y2="772.4" stroke-width="1.8"/>
<line x1="717.3" y1="663" x2="717.3" y2="772" stroke-width="1.6"/>
<line x1="879.7" y1="663" x2="879.7" y2="772" stroke-width="1.6"/>
<line x1="1055.2" y1="663" x2="1055.2" y2="772" stroke-width="1.6"/>
</g>
</svg></body></html>
